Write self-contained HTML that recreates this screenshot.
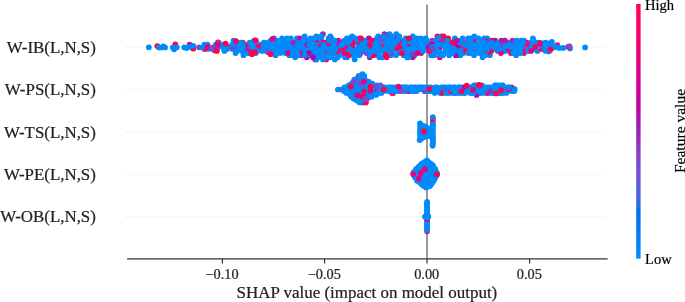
<!DOCTYPE html>
<html><head><meta charset="utf-8"><title>SHAP summary</title>
<style>html,body{margin:0;padding:0;background:#fff}body{width:685px;height:302px;overflow:hidden;font-family:"Liberation Serif",serif}</style></head>
<body>
<svg width="685" height="302" viewBox="0 0 685 302" style="display:block;will-change:transform;font-family:'Liberation Serif',serif">
<defs><linearGradient id="cb" x1="0" y1="1" x2="0" y2="0">
<stop offset="0.000" stop-color="#008bfb"/>
<stop offset="0.030" stop-color="#0086fa"/>
<stop offset="0.061" stop-color="#0082f8"/>
<stop offset="0.091" stop-color="#007ef6"/>
<stop offset="0.121" stop-color="#0079f3"/>
<stop offset="0.152" stop-color="#0074f0"/>
<stop offset="0.182" stop-color="#006fed"/>
<stop offset="0.212" stop-color="#306ae9"/>
<stop offset="0.242" stop-color="#4664e4"/>
<stop offset="0.273" stop-color="#575fdf"/>
<stop offset="0.303" stop-color="#6459da"/>
<stop offset="0.333" stop-color="#6f52d4"/>
<stop offset="0.364" stop-color="#794cce"/>
<stop offset="0.394" stop-color="#8244c7"/>
<stop offset="0.424" stop-color="#8a3cc0"/>
<stop offset="0.455" stop-color="#9233b9"/>
<stop offset="0.485" stop-color="#9829b1"/>
<stop offset="0.515" stop-color="#a01fab"/>
<stop offset="0.545" stop-color="#aa17a7"/>
<stop offset="0.576" stop-color="#b30aa3"/>
<stop offset="0.606" stop-color="#bc009f"/>
<stop offset="0.636" stop-color="#c5009a"/>
<stop offset="0.667" stop-color="#cd0095"/>
<stop offset="0.697" stop-color="#d40090"/>
<stop offset="0.727" stop-color="#db008a"/>
<stop offset="0.758" stop-color="#e10084"/>
<stop offset="0.788" stop-color="#e7007e"/>
<stop offset="0.818" stop-color="#ec0078"/>
<stop offset="0.848" stop-color="#f10072"/>
<stop offset="0.879" stop-color="#f6006c"/>
<stop offset="0.909" stop-color="#fa0065"/>
<stop offset="0.939" stop-color="#fd005f"/>
<stop offset="0.970" stop-color="#ff0058"/>
<stop offset="1.000" stop-color="#ff0051"/>
<stop offset="1" stop-color="#ff0051"/></linearGradient></defs>
<rect width="685" height="302" fill="#fff"/>
<line x1="127.1" x2="604.7" y1="47.2" y2="47.2" stroke="#ccc" stroke-width="0.7" stroke-dasharray="0.9 3.07"/>
<line x1="127.1" x2="604.7" y1="89.6" y2="89.6" stroke="#ccc" stroke-width="0.7" stroke-dasharray="0.9 3.07"/>
<line x1="127.1" x2="604.7" y1="132.0" y2="132.0" stroke="#ccc" stroke-width="0.7" stroke-dasharray="0.9 3.07"/>
<line x1="127.1" x2="604.7" y1="174.4" y2="174.4" stroke="#ccc" stroke-width="0.7" stroke-dasharray="0.9 3.07"/>
<line x1="127.1" x2="604.7" y1="216.8" y2="216.8" stroke="#ccc" stroke-width="0.7" stroke-dasharray="0.9 3.07"/>
<line x1="427.0" x2="427.0" y1="4.6" y2="258.8" stroke="#999" stroke-width="2"/>
<g>
<circle cx="157.3" cy="46.0" r="2.85" fill="#ff0051"/>
<circle cx="175.3" cy="44.3" r="2.85" fill="#ff0051"/>
<circle cx="189.6" cy="44.6" r="2.85" fill="#e9007c"/>
<circle cx="193.2" cy="48.7" r="2.85" fill="#ff0051"/>
<circle cx="214.8" cy="50.4" r="2.85" fill="#ff0051"/>
<circle cx="218.0" cy="42.3" r="2.85" fill="#ff0051"/>
<circle cx="421.2" cy="53.1" r="2.85" fill="#f30070"/>
<circle cx="371.8" cy="46.8" r="2.85" fill="#008bfb"/>
<circle cx="484.2" cy="38.4" r="2.85" fill="#008bfb"/>
<circle cx="378.7" cy="51.0" r="2.85" fill="#008bfb"/>
<circle cx="345.9" cy="51.0" r="2.85" fill="#008bfb"/>
<circle cx="444.6" cy="42.6" r="2.85" fill="#008bfb"/>
<circle cx="292.6" cy="48.9" r="2.85" fill="#008bfb"/>
<circle cx="484.9" cy="51.0" r="2.85" fill="#008bfb"/>
<circle cx="338.1" cy="46.8" r="2.85" fill="#008bfb"/>
<circle cx="454.6" cy="46.8" r="2.85" fill="#008bfb"/>
<circle cx="398.9" cy="51.0" r="2.85" fill="#008bfb"/>
<circle cx="487.1" cy="42.6" r="2.85" fill="#ff0058"/>
<circle cx="546.6" cy="48.9" r="2.85" fill="#e9007c"/>
<circle cx="338.0" cy="55.2" r="2.85" fill="#fb0063"/>
<circle cx="395.9" cy="48.9" r="2.85" fill="#ff0058"/>
<circle cx="299.6" cy="46.8" r="2.85" fill="#008bfb"/>
<circle cx="347.2" cy="57.3" r="2.85" fill="#008bfb"/>
<circle cx="435.7" cy="48.9" r="2.85" fill="#f30070"/>
<circle cx="463.0" cy="46.8" r="2.85" fill="#ff0051"/>
<circle cx="362.8" cy="51.0" r="2.85" fill="#008bfb"/>
<circle cx="505.5" cy="51.0" r="2.85" fill="#008bfb"/>
<circle cx="378.2" cy="36.3" r="2.85" fill="#008bfb"/>
<circle cx="266.8" cy="48.9" r="2.85" fill="#fb0063"/>
<circle cx="369.7" cy="57.3" r="2.85" fill="#aa17a7"/>
<circle cx="308.0" cy="40.5" r="2.85" fill="#008bfb"/>
<circle cx="341.1" cy="42.6" r="2.85" fill="#008bfb"/>
<circle cx="282.1" cy="46.8" r="2.85" fill="#ff0051"/>
<circle cx="502.6" cy="44.7" r="2.85" fill="#e9007c"/>
<circle cx="339.4" cy="55.2" r="2.85" fill="#008bfb"/>
<circle cx="460.9" cy="44.7" r="2.85" fill="#ff0051"/>
<circle cx="316.1" cy="48.9" r="2.85" fill="#e9007c"/>
<circle cx="303.6" cy="42.6" r="2.85" fill="#008bfb"/>
<circle cx="482.0" cy="42.6" r="2.85" fill="#008bfb"/>
<circle cx="437.4" cy="36.3" r="2.85" fill="#f30070"/>
<circle cx="501.7" cy="48.9" r="2.85" fill="#008bfb"/>
<circle cx="331.9" cy="48.9" r="2.85" fill="#ff0051"/>
<circle cx="211.9" cy="48.9" r="2.85" fill="#008bfb"/>
<circle cx="236.9" cy="42.6" r="2.85" fill="#008bfb"/>
<circle cx="489.5" cy="40.5" r="2.85" fill="#008bfb"/>
<circle cx="503.9" cy="48.9" r="2.85" fill="#008bfb"/>
<circle cx="431.1" cy="55.2" r="2.85" fill="#008bfb"/>
<circle cx="493.5" cy="48.9" r="2.85" fill="#008bfb"/>
<circle cx="395.3" cy="42.6" r="2.85" fill="#008bfb"/>
<circle cx="339.8" cy="46.8" r="2.85" fill="#f30070"/>
<circle cx="409.9" cy="44.7" r="2.85" fill="#ff0051"/>
<circle cx="306.8" cy="57.3" r="2.85" fill="#b604a2"/>
<circle cx="357.0" cy="42.6" r="2.85" fill="#008bfb"/>
<circle cx="303.2" cy="44.7" r="2.85" fill="#008bfb"/>
<circle cx="479.3" cy="53.1" r="2.85" fill="#008bfb"/>
<circle cx="358.4" cy="40.5" r="2.85" fill="#008bfb"/>
<circle cx="457.3" cy="44.7" r="2.85" fill="#008bfb"/>
<circle cx="533.4" cy="40.5" r="2.85" fill="#008bfb"/>
<circle cx="501.6" cy="46.8" r="2.85" fill="#e9007c"/>
<circle cx="326.2" cy="59.4" r="2.85" fill="#fb0063"/>
<circle cx="318.0" cy="42.6" r="2.85" fill="#008bfb"/>
<circle cx="454.8" cy="40.5" r="2.85" fill="#008bfb"/>
<circle cx="278.9" cy="51.0" r="2.85" fill="#008bfb"/>
<circle cx="261.8" cy="44.7" r="2.85" fill="#ff0051"/>
<circle cx="418.6" cy="44.7" r="2.85" fill="#008bfb"/>
<circle cx="445.6" cy="48.9" r="2.85" fill="#008bfb"/>
<circle cx="492.8" cy="44.7" r="2.85" fill="#e9007c"/>
<circle cx="348.0" cy="51.0" r="2.85" fill="#008bfb"/>
<circle cx="489.9" cy="55.2" r="2.85" fill="#008bfb"/>
<circle cx="424.5" cy="44.7" r="2.85" fill="#008bfb"/>
<circle cx="239.8" cy="46.8" r="2.85" fill="#008bfb"/>
<circle cx="445.9" cy="38.4" r="2.85" fill="#008bfb"/>
<circle cx="216.5" cy="48.9" r="2.85" fill="#008bfb"/>
<circle cx="487.3" cy="53.1" r="2.85" fill="#ff0051"/>
<circle cx="329.3" cy="44.7" r="2.85" fill="#008bfb"/>
<circle cx="386.5" cy="48.9" r="2.85" fill="#aa17a7"/>
<circle cx="448.2" cy="38.4" r="2.85" fill="#ff0051"/>
<circle cx="532.9" cy="38.4" r="2.85" fill="#008bfb"/>
<circle cx="432.4" cy="42.6" r="2.85" fill="#008bfb"/>
<circle cx="519.0" cy="44.7" r="2.85" fill="#008bfb"/>
<circle cx="362.0" cy="44.7" r="2.85" fill="#008bfb"/>
<circle cx="524.7" cy="51.0" r="2.85" fill="#f30070"/>
<circle cx="308.8" cy="48.9" r="2.85" fill="#ff0058"/>
<circle cx="432.4" cy="40.5" r="2.85" fill="#8542c5"/>
<circle cx="482.8" cy="53.1" r="2.85" fill="#008bfb"/>
<circle cx="329.8" cy="44.7" r="2.85" fill="#8047c9"/>
<circle cx="383.8" cy="38.4" r="2.85" fill="#008bfb"/>
<circle cx="207.5" cy="44.7" r="2.85" fill="#008bfb"/>
<circle cx="322.9" cy="34.2" r="2.85" fill="#9430b6"/>
<circle cx="293.6" cy="46.8" r="2.85" fill="#008bfb"/>
<circle cx="320.9" cy="40.5" r="2.85" fill="#fb0063"/>
<circle cx="503.3" cy="51.0" r="2.85" fill="#008bfb"/>
<circle cx="347.4" cy="44.7" r="2.85" fill="#008bfb"/>
<circle cx="443.1" cy="40.5" r="2.85" fill="#fb0063"/>
<circle cx="378.3" cy="55.2" r="2.85" fill="#008bfb"/>
<circle cx="387.5" cy="44.7" r="2.85" fill="#008bfb"/>
<circle cx="463.3" cy="48.9" r="2.85" fill="#ff0051"/>
<circle cx="344.4" cy="48.9" r="2.85" fill="#008bfb"/>
<circle cx="277.9" cy="44.7" r="2.85" fill="#008bfb"/>
<circle cx="386.8" cy="55.2" r="2.85" fill="#008bfb"/>
<circle cx="415.0" cy="44.7" r="2.85" fill="#008bfb"/>
<circle cx="544.4" cy="44.7" r="2.85" fill="#008bfb"/>
<circle cx="537.4" cy="51.0" r="2.85" fill="#008bfb"/>
<circle cx="255.8" cy="42.6" r="2.85" fill="#008bfb"/>
<circle cx="384.4" cy="42.6" r="2.85" fill="#008bfb"/>
<circle cx="475.9" cy="51.0" r="2.85" fill="#008bfb"/>
<circle cx="346.5" cy="55.2" r="2.85" fill="#008bfb"/>
<circle cx="395.8" cy="38.4" r="2.85" fill="#008bfb"/>
<circle cx="474.6" cy="42.6" r="2.85" fill="#008bfb"/>
<circle cx="497.9" cy="44.7" r="2.85" fill="#008bfb"/>
<circle cx="524.1" cy="40.5" r="2.85" fill="#008bfb"/>
<circle cx="389.7" cy="36.3" r="2.85" fill="#dd0088"/>
<circle cx="315.9" cy="53.1" r="2.85" fill="#008bfb"/>
<circle cx="398.6" cy="53.1" r="2.85" fill="#008bfb"/>
<circle cx="316.6" cy="40.5" r="2.85" fill="#008bfb"/>
<circle cx="295.2" cy="48.9" r="2.85" fill="#8f36bb"/>
<circle cx="232.5" cy="48.9" r="2.85" fill="#008bfb"/>
<circle cx="449.4" cy="44.7" r="2.85" fill="#008bfb"/>
<circle cx="241.7" cy="48.9" r="2.85" fill="#008bfb"/>
<circle cx="294.9" cy="51.0" r="2.85" fill="#008bfb"/>
<circle cx="310.1" cy="46.8" r="2.85" fill="#008bfb"/>
<circle cx="379.3" cy="42.6" r="2.85" fill="#ff0051"/>
<circle cx="317.5" cy="51.0" r="2.85" fill="#008bfb"/>
<circle cx="285.0" cy="40.5" r="2.85" fill="#b00fa5"/>
<circle cx="492.0" cy="40.5" r="2.85" fill="#ff0051"/>
<circle cx="299.8" cy="51.0" r="2.85" fill="#008bfb"/>
<circle cx="205.8" cy="46.8" r="2.85" fill="#ff0051"/>
<circle cx="472.4" cy="51.0" r="2.85" fill="#ff0051"/>
<circle cx="331.4" cy="38.4" r="2.85" fill="#008bfb"/>
<circle cx="510.9" cy="51.0" r="2.85" fill="#008bfb"/>
<circle cx="508.5" cy="48.9" r="2.85" fill="#e9007c"/>
<circle cx="439.4" cy="42.6" r="2.85" fill="#008bfb"/>
<circle cx="330.7" cy="42.6" r="2.85" fill="#ff0058"/>
<circle cx="526.7" cy="44.7" r="2.85" fill="#ff0051"/>
<circle cx="441.2" cy="36.3" r="2.85" fill="#008bfb"/>
<circle cx="429.7" cy="44.7" r="2.85" fill="#008bfb"/>
<circle cx="316.4" cy="36.3" r="2.85" fill="#008bfb"/>
<circle cx="307.9" cy="42.6" r="2.85" fill="#008bfb"/>
<circle cx="223.8" cy="48.9" r="2.85" fill="#008bfb"/>
<circle cx="359.3" cy="55.2" r="2.85" fill="#008bfb"/>
<circle cx="487.9" cy="46.8" r="2.85" fill="#bc009f"/>
<circle cx="269.4" cy="51.0" r="2.85" fill="#008bfb"/>
<circle cx="382.0" cy="46.8" r="2.85" fill="#008bfb"/>
<circle cx="449.8" cy="48.9" r="2.85" fill="#008bfb"/>
<circle cx="254.4" cy="46.8" r="2.85" fill="#008bfb"/>
<circle cx="495.1" cy="40.5" r="2.85" fill="#b30aa3"/>
<circle cx="355.6" cy="51.0" r="2.85" fill="#008bfb"/>
<circle cx="396.0" cy="55.2" r="2.85" fill="#008bfb"/>
<circle cx="396.3" cy="34.2" r="2.85" fill="#008bfb"/>
<circle cx="498.2" cy="42.6" r="2.85" fill="#008bfb"/>
<circle cx="521.3" cy="40.5" r="2.85" fill="#008bfb"/>
<circle cx="409.7" cy="42.6" r="2.85" fill="#008bfb"/>
<circle cx="257.7" cy="44.7" r="2.85" fill="#008bfb"/>
<circle cx="384.4" cy="53.1" r="2.85" fill="#008bfb"/>
<circle cx="509.3" cy="46.8" r="2.85" fill="#008bfb"/>
<circle cx="313.3" cy="55.2" r="2.85" fill="#008bfb"/>
<circle cx="439.4" cy="48.9" r="2.85" fill="#008bfb"/>
<circle cx="327.4" cy="55.2" r="2.85" fill="#008bfb"/>
<circle cx="267.3" cy="46.8" r="2.85" fill="#008bfb"/>
<circle cx="491.4" cy="51.0" r="2.85" fill="#008bfb"/>
<circle cx="524.0" cy="53.1" r="2.85" fill="#ff0051"/>
<circle cx="530.9" cy="42.6" r="2.85" fill="#008bfb"/>
<circle cx="515.7" cy="51.0" r="2.85" fill="#008bfb"/>
<circle cx="377.8" cy="53.1" r="2.85" fill="#008bfb"/>
<circle cx="414.5" cy="55.2" r="2.85" fill="#008bfb"/>
<circle cx="321.1" cy="38.4" r="2.85" fill="#008bfb"/>
<circle cx="483.6" cy="46.8" r="2.85" fill="#008bfb"/>
<circle cx="438.0" cy="42.6" r="2.85" fill="#962db3"/>
<circle cx="314.9" cy="51.0" r="2.85" fill="#008bfb"/>
<circle cx="407.0" cy="40.5" r="2.85" fill="#008bfb"/>
<circle cx="523.0" cy="48.9" r="2.85" fill="#f30070"/>
<circle cx="276.4" cy="53.1" r="2.85" fill="#008bfb"/>
<circle cx="294.9" cy="53.1" r="2.85" fill="#008bfb"/>
<circle cx="368.9" cy="38.4" r="2.85" fill="#b604a2"/>
<circle cx="409.5" cy="51.0" r="2.85" fill="#008bfb"/>
<circle cx="373.9" cy="40.5" r="2.85" fill="#8d39be"/>
<circle cx="460.6" cy="42.6" r="2.85" fill="#008bfb"/>
<circle cx="328.3" cy="53.1" r="2.85" fill="#008bfb"/>
<circle cx="441.0" cy="38.4" r="2.85" fill="#008bfb"/>
<circle cx="422.6" cy="48.9" r="2.85" fill="#008bfb"/>
<circle cx="287.7" cy="42.6" r="2.85" fill="#b900a0"/>
<circle cx="364.1" cy="40.5" r="2.85" fill="#008bfb"/>
<circle cx="535.1" cy="48.9" r="2.85" fill="#008bfb"/>
<circle cx="359.8" cy="44.7" r="2.85" fill="#e9007c"/>
<circle cx="258.0" cy="48.9" r="2.85" fill="#8047c9"/>
<circle cx="439.8" cy="57.3" r="2.85" fill="#f30070"/>
<circle cx="438.5" cy="51.0" r="2.85" fill="#f30070"/>
<circle cx="288.0" cy="51.0" r="2.85" fill="#008bfb"/>
<circle cx="366.9" cy="42.6" r="2.85" fill="#008bfb"/>
<circle cx="423.2" cy="51.0" r="2.85" fill="#008bfb"/>
<circle cx="262.9" cy="46.8" r="2.85" fill="#008bfb"/>
<circle cx="532.4" cy="48.9" r="2.85" fill="#008bfb"/>
<circle cx="473.7" cy="38.4" r="2.85" fill="#008bfb"/>
<circle cx="383.2" cy="44.7" r="2.85" fill="#008bfb"/>
<circle cx="383.1" cy="51.0" r="2.85" fill="#008bfb"/>
<circle cx="392.1" cy="51.0" r="2.85" fill="#008bfb"/>
<circle cx="315.2" cy="59.4" r="2.85" fill="#f30070"/>
<circle cx="394.7" cy="38.4" r="2.85" fill="#ff0051"/>
<circle cx="337.9" cy="42.6" r="2.85" fill="#dd0088"/>
<circle cx="359.5" cy="38.4" r="2.85" fill="#008bfb"/>
<circle cx="529.4" cy="46.8" r="2.85" fill="#8f36bb"/>
<circle cx="387.2" cy="51.0" r="2.85" fill="#ff0051"/>
<circle cx="298.7" cy="40.5" r="2.85" fill="#008bfb"/>
<circle cx="291.3" cy="44.7" r="2.85" fill="#008bfb"/>
<circle cx="403.8" cy="51.0" r="2.85" fill="#008bfb"/>
<circle cx="236.6" cy="46.8" r="2.85" fill="#008bfb"/>
<circle cx="295.7" cy="44.7" r="2.85" fill="#008bfb"/>
<circle cx="261.8" cy="48.9" r="2.85" fill="#008bfb"/>
<circle cx="451.3" cy="42.6" r="2.85" fill="#ff0058"/>
<circle cx="458.9" cy="55.2" r="2.85" fill="#008bfb"/>
<circle cx="443.9" cy="53.1" r="2.85" fill="#008bfb"/>
<circle cx="306.9" cy="46.8" r="2.85" fill="#008bfb"/>
<circle cx="267.0" cy="44.7" r="2.85" fill="#008bfb"/>
<circle cx="389.6" cy="34.2" r="2.85" fill="#008bfb"/>
<circle cx="242.6" cy="48.9" r="2.85" fill="#008bfb"/>
<circle cx="406.4" cy="44.7" r="2.85" fill="#008bfb"/>
<circle cx="412.8" cy="36.3" r="2.85" fill="#008bfb"/>
<circle cx="287.4" cy="44.7" r="2.85" fill="#008bfb"/>
<circle cx="490.7" cy="51.0" r="2.85" fill="#ff0051"/>
<circle cx="243.9" cy="46.8" r="2.85" fill="#008bfb"/>
<circle cx="289.2" cy="55.2" r="2.85" fill="#008bfb"/>
<circle cx="508.0" cy="42.6" r="2.85" fill="#883fc2"/>
<circle cx="304.6" cy="36.3" r="2.85" fill="#008bfb"/>
<circle cx="338.2" cy="48.9" r="2.85" fill="#008bfb"/>
<circle cx="317.7" cy="57.3" r="2.85" fill="#008bfb"/>
<circle cx="519.9" cy="48.9" r="2.85" fill="#008bfb"/>
<circle cx="364.6" cy="40.5" r="2.85" fill="#008bfb"/>
<circle cx="463.3" cy="51.0" r="2.85" fill="#008bfb"/>
<circle cx="391.1" cy="55.2" r="2.85" fill="#008bfb"/>
<circle cx="468.2" cy="48.9" r="2.85" fill="#008bfb"/>
<circle cx="242.8" cy="42.6" r="2.85" fill="#fb0063"/>
<circle cx="370.4" cy="48.9" r="2.85" fill="#fb0063"/>
<circle cx="408.1" cy="46.8" r="2.85" fill="#e9007c"/>
<circle cx="431.7" cy="44.7" r="2.85" fill="#bc009f"/>
<circle cx="352.8" cy="44.7" r="2.85" fill="#008bfb"/>
<circle cx="458.6" cy="48.9" r="2.85" fill="#008bfb"/>
<circle cx="329.8" cy="40.5" r="2.85" fill="#008bfb"/>
<circle cx="276.8" cy="42.6" r="2.85" fill="#008bfb"/>
<circle cx="352.9" cy="48.9" r="2.85" fill="#008bfb"/>
<circle cx="293.6" cy="42.6" r="2.85" fill="#962db3"/>
<circle cx="348.4" cy="46.8" r="2.85" fill="#008bfb"/>
<circle cx="310.4" cy="55.2" r="2.85" fill="#008bfb"/>
<circle cx="207.6" cy="48.9" r="2.85" fill="#008bfb"/>
<circle cx="541.5" cy="48.9" r="2.85" fill="#ff0051"/>
<circle cx="399.8" cy="44.7" r="2.85" fill="#8047c9"/>
<circle cx="461.2" cy="40.5" r="2.85" fill="#008bfb"/>
<circle cx="348.2" cy="53.1" r="2.85" fill="#008bfb"/>
<circle cx="381.1" cy="40.5" r="2.85" fill="#008bfb"/>
<circle cx="290.7" cy="40.5" r="2.85" fill="#dd0088"/>
<circle cx="354.7" cy="59.4" r="2.85" fill="#008bfb"/>
<circle cx="498.0" cy="46.8" r="2.85" fill="#008bfb"/>
<circle cx="406.5" cy="48.9" r="2.85" fill="#008bfb"/>
<circle cx="337.7" cy="57.3" r="2.85" fill="#008bfb"/>
<circle cx="280.3" cy="53.1" r="2.85" fill="#008bfb"/>
<circle cx="334.1" cy="44.7" r="2.85" fill="#008bfb"/>
<circle cx="454.3" cy="44.7" r="2.85" fill="#fb0063"/>
<circle cx="355.6" cy="38.4" r="2.85" fill="#008bfb"/>
<circle cx="367.1" cy="51.0" r="2.85" fill="#008bfb"/>
<circle cx="255.8" cy="40.5" r="2.85" fill="#008bfb"/>
<circle cx="478.1" cy="46.8" r="2.85" fill="#008bfb"/>
<circle cx="394.2" cy="44.7" r="2.85" fill="#008bfb"/>
<circle cx="432.5" cy="53.1" r="2.85" fill="#008bfb"/>
<circle cx="478.1" cy="44.7" r="2.85" fill="#008bfb"/>
<circle cx="283.0" cy="44.7" r="2.85" fill="#008bfb"/>
<circle cx="343.7" cy="42.6" r="2.85" fill="#ff0051"/>
<circle cx="513.4" cy="48.9" r="2.85" fill="#008bfb"/>
<circle cx="270.7" cy="40.5" r="2.85" fill="#008bfb"/>
<circle cx="296.9" cy="38.4" r="2.85" fill="#008bfb"/>
<circle cx="449.2" cy="55.2" r="2.85" fill="#008bfb"/>
<circle cx="473.7" cy="46.8" r="2.85" fill="#008bfb"/>
<circle cx="513.3" cy="44.7" r="2.85" fill="#008bfb"/>
<circle cx="344.9" cy="57.3" r="2.85" fill="#008bfb"/>
<circle cx="391.3" cy="53.1" r="2.85" fill="#7d49cc"/>
<circle cx="264.0" cy="42.6" r="2.85" fill="#008bfb"/>
<circle cx="325.5" cy="42.6" r="2.85" fill="#f30070"/>
<circle cx="382.2" cy="57.3" r="2.85" fill="#008bfb"/>
<circle cx="529.1" cy="48.9" r="2.85" fill="#8a3cc0"/>
<circle cx="312.8" cy="46.8" r="2.85" fill="#008bfb"/>
<circle cx="345.3" cy="46.8" r="2.85" fill="#fb0063"/>
<circle cx="528.0" cy="51.0" r="2.85" fill="#008bfb"/>
<circle cx="334.4" cy="53.1" r="2.85" fill="#008bfb"/>
<circle cx="310.4" cy="38.4" r="2.85" fill="#008bfb"/>
<circle cx="283.8" cy="48.9" r="2.85" fill="#008bfb"/>
<circle cx="204.6" cy="48.9" r="2.85" fill="#ff0058"/>
<circle cx="313.2" cy="40.5" r="2.85" fill="#008bfb"/>
<circle cx="457.9" cy="53.1" r="2.85" fill="#008bfb"/>
<circle cx="475.6" cy="53.1" r="2.85" fill="#008bfb"/>
<circle cx="236.0" cy="48.9" r="2.85" fill="#008bfb"/>
<circle cx="348.8" cy="38.4" r="2.85" fill="#008bfb"/>
<circle cx="352.1" cy="46.8" r="2.85" fill="#e9007c"/>
<circle cx="404.7" cy="46.8" r="2.85" fill="#008bfb"/>
<circle cx="233.7" cy="40.5" r="2.85" fill="#008bfb"/>
<circle cx="381.6" cy="46.8" r="2.85" fill="#ff0058"/>
<circle cx="418.0" cy="48.9" r="2.85" fill="#8a3cc0"/>
<circle cx="460.5" cy="55.2" r="2.85" fill="#008bfb"/>
<circle cx="320.6" cy="53.1" r="2.85" fill="#008bfb"/>
<circle cx="392.3" cy="36.3" r="2.85" fill="#008bfb"/>
<circle cx="531.9" cy="46.8" r="2.85" fill="#008bfb"/>
<circle cx="275.6" cy="55.2" r="2.85" fill="#008bfb"/>
<circle cx="290.8" cy="38.4" r="2.85" fill="#008bfb"/>
<circle cx="526.6" cy="42.6" r="2.85" fill="#fb0063"/>
<circle cx="380.7" cy="38.4" r="2.85" fill="#e9007c"/>
<circle cx="472.9" cy="44.7" r="2.85" fill="#008bfb"/>
<circle cx="338.3" cy="40.5" r="2.85" fill="#dd0088"/>
<circle cx="281.4" cy="48.9" r="2.85" fill="#008bfb"/>
<circle cx="327.0" cy="46.8" r="2.85" fill="#ff0051"/>
<circle cx="405.7" cy="38.4" r="2.85" fill="#008bfb"/>
<circle cx="247.6" cy="46.8" r="2.85" fill="#008bfb"/>
<circle cx="403.6" cy="55.2" r="2.85" fill="#008bfb"/>
<circle cx="386.9" cy="38.4" r="2.85" fill="#008bfb"/>
<circle cx="316.3" cy="42.6" r="2.85" fill="#ff0051"/>
<circle cx="295.2" cy="57.3" r="2.85" fill="#008bfb"/>
<circle cx="248.7" cy="48.9" r="2.85" fill="#008bfb"/>
<circle cx="519.8" cy="42.6" r="2.85" fill="#008bfb"/>
<circle cx="407.4" cy="53.1" r="2.85" fill="#008bfb"/>
<circle cx="521.9" cy="46.8" r="2.85" fill="#008bfb"/>
<circle cx="408.6" cy="53.1" r="2.85" fill="#008bfb"/>
<circle cx="468.5" cy="40.5" r="2.85" fill="#e9007c"/>
<circle cx="341.8" cy="51.0" r="2.85" fill="#ff0058"/>
<circle cx="497.7" cy="51.0" r="2.85" fill="#764ed0"/>
<circle cx="360.5" cy="53.1" r="2.85" fill="#9d22ac"/>
<circle cx="389.5" cy="42.6" r="2.85" fill="#008bfb"/>
<circle cx="237.3" cy="44.7" r="2.85" fill="#008bfb"/>
<circle cx="487.5" cy="48.9" r="2.85" fill="#008bfb"/>
<circle cx="243.5" cy="55.2" r="2.85" fill="#008bfb"/>
<circle cx="323.5" cy="53.1" r="2.85" fill="#e9007c"/>
<circle cx="402.0" cy="40.5" r="2.85" fill="#008bfb"/>
<circle cx="419.6" cy="40.5" r="2.85" fill="#008bfb"/>
<circle cx="320.2" cy="38.4" r="2.85" fill="#008bfb"/>
<circle cx="228.2" cy="46.8" r="2.85" fill="#fb0063"/>
<circle cx="445.3" cy="46.8" r="2.85" fill="#008bfb"/>
<circle cx="261.9" cy="51.0" r="2.85" fill="#008bfb"/>
<circle cx="468.2" cy="38.4" r="2.85" fill="#008bfb"/>
<circle cx="377.2" cy="38.4" r="2.85" fill="#008bfb"/>
<circle cx="334.8" cy="59.4" r="2.85" fill="#008bfb"/>
<circle cx="254.0" cy="40.5" r="2.85" fill="#008bfb"/>
<circle cx="330.7" cy="57.3" r="2.85" fill="#008bfb"/>
<circle cx="388.2" cy="53.1" r="2.85" fill="#008bfb"/>
<circle cx="299.9" cy="40.5" r="2.85" fill="#008bfb"/>
<circle cx="287.7" cy="48.9" r="2.85" fill="#008bfb"/>
<circle cx="451.5" cy="53.1" r="2.85" fill="#008bfb"/>
<circle cx="410.2" cy="55.2" r="2.85" fill="#008bfb"/>
<circle cx="443.0" cy="55.2" r="2.85" fill="#008bfb"/>
<circle cx="364.4" cy="46.8" r="2.85" fill="#008bfb"/>
<circle cx="487.2" cy="38.4" r="2.85" fill="#008bfb"/>
<circle cx="224.5" cy="51.0" r="2.85" fill="#008bfb"/>
<circle cx="248.9" cy="53.1" r="2.85" fill="#008bfb"/>
<circle cx="218.4" cy="44.7" r="2.85" fill="#008bfb"/>
<circle cx="454.8" cy="38.4" r="2.85" fill="#008bfb"/>
<circle cx="354.5" cy="53.1" r="2.85" fill="#008bfb"/>
<circle cx="474.1" cy="40.5" r="2.85" fill="#ff0058"/>
<circle cx="320.6" cy="44.7" r="2.85" fill="#008bfb"/>
<circle cx="471.6" cy="46.8" r="2.85" fill="#008bfb"/>
<circle cx="375.9" cy="42.6" r="2.85" fill="#008bfb"/>
<circle cx="463.3" cy="53.1" r="2.85" fill="#008bfb"/>
<circle cx="270.0" cy="53.1" r="2.85" fill="#ff0051"/>
<circle cx="520.4" cy="53.1" r="2.85" fill="#008bfb"/>
<circle cx="346.9" cy="38.4" r="2.85" fill="#008bfb"/>
<circle cx="384.5" cy="34.2" r="2.85" fill="#9d22ac"/>
<circle cx="324.6" cy="46.8" r="2.85" fill="#008bfb"/>
<circle cx="252.7" cy="51.0" r="2.85" fill="#9d22ac"/>
<circle cx="474.0" cy="55.2" r="2.85" fill="#008bfb"/>
<circle cx="350.1" cy="48.9" r="2.85" fill="#008bfb"/>
<circle cx="233.4" cy="46.8" r="2.85" fill="#8d39be"/>
<circle cx="440.0" cy="46.8" r="2.85" fill="#dd0088"/>
<circle cx="272.1" cy="46.8" r="2.85" fill="#008bfb"/>
<circle cx="503.4" cy="42.6" r="2.85" fill="#8a3cc0"/>
<circle cx="325.4" cy="57.3" r="2.85" fill="#008bfb"/>
<circle cx="316.4" cy="59.4" r="2.85" fill="#008bfb"/>
<circle cx="365.3" cy="44.7" r="2.85" fill="#008bfb"/>
<circle cx="371.6" cy="42.6" r="2.85" fill="#008bfb"/>
<circle cx="457.3" cy="46.8" r="2.85" fill="#b604a2"/>
<circle cx="476.9" cy="48.9" r="2.85" fill="#008bfb"/>
<circle cx="399.2" cy="36.3" r="2.85" fill="#008bfb"/>
<circle cx="278.6" cy="46.8" r="2.85" fill="#008bfb"/>
<circle cx="512.9" cy="46.8" r="2.85" fill="#008bfb"/>
<circle cx="285.8" cy="42.6" r="2.85" fill="#008bfb"/>
<circle cx="288.4" cy="46.8" r="2.85" fill="#008bfb"/>
<circle cx="282.1" cy="38.4" r="2.85" fill="#008bfb"/>
<circle cx="500.9" cy="53.1" r="2.85" fill="#dd0088"/>
<circle cx="370.0" cy="55.2" r="2.85" fill="#008bfb"/>
<circle cx="351.8" cy="40.5" r="2.85" fill="#6f52d4"/>
<circle cx="455.0" cy="51.0" r="2.85" fill="#008bfb"/>
<circle cx="436.4" cy="40.5" r="2.85" fill="#008bfb"/>
<circle cx="354.2" cy="57.3" r="2.85" fill="#008bfb"/>
<circle cx="481.6" cy="48.9" r="2.85" fill="#008bfb"/>
<circle cx="353.7" cy="55.2" r="2.85" fill="#008bfb"/>
<circle cx="536.8" cy="42.6" r="2.85" fill="#008bfb"/>
<circle cx="327.2" cy="51.0" r="2.85" fill="#ff0051"/>
<circle cx="420.5" cy="38.4" r="2.85" fill="#008bfb"/>
<circle cx="470.5" cy="53.1" r="2.85" fill="#008bfb"/>
<circle cx="317.4" cy="55.2" r="2.85" fill="#008bfb"/>
<circle cx="357.7" cy="48.9" r="2.85" fill="#008bfb"/>
<circle cx="247.6" cy="44.7" r="2.85" fill="#ff0051"/>
<circle cx="418.2" cy="51.0" r="2.85" fill="#008bfb"/>
<circle cx="341.3" cy="53.1" r="2.85" fill="#008bfb"/>
<circle cx="453.9" cy="48.9" r="2.85" fill="#008bfb"/>
<circle cx="485.3" cy="44.7" r="2.85" fill="#008bfb"/>
<circle cx="412.8" cy="57.3" r="2.85" fill="#a71aa9"/>
<circle cx="430.6" cy="51.0" r="2.85" fill="#008bfb"/>
<circle cx="521.7" cy="44.7" r="2.85" fill="#008bfb"/>
<circle cx="288.4" cy="40.5" r="2.85" fill="#008bfb"/>
<circle cx="398.4" cy="44.7" r="2.85" fill="#008bfb"/>
<circle cx="344.1" cy="40.5" r="2.85" fill="#008bfb"/>
<circle cx="327.8" cy="48.9" r="2.85" fill="#008bfb"/>
<circle cx="462.7" cy="38.4" r="2.85" fill="#008bfb"/>
<circle cx="237.2" cy="51.0" r="2.85" fill="#008bfb"/>
<circle cx="478.4" cy="38.4" r="2.85" fill="#008bfb"/>
<circle cx="439.8" cy="53.1" r="2.85" fill="#008bfb"/>
<circle cx="434.9" cy="53.1" r="2.85" fill="#008bfb"/>
<circle cx="400.7" cy="42.6" r="2.85" fill="#f30070"/>
<circle cx="407.1" cy="57.3" r="2.85" fill="#008bfb"/>
<circle cx="413.1" cy="53.1" r="2.85" fill="#8a3cc0"/>
<circle cx="283.4" cy="51.0" r="2.85" fill="#008bfb"/>
<circle cx="321.3" cy="57.3" r="2.85" fill="#008bfb"/>
<circle cx="425.6" cy="38.4" r="2.85" fill="#008bfb"/>
<circle cx="481.0" cy="40.5" r="2.85" fill="#008bfb"/>
<circle cx="361.0" cy="48.9" r="2.85" fill="#008bfb"/>
<circle cx="359.6" cy="53.1" r="2.85" fill="#008bfb"/>
<circle cx="249.6" cy="42.6" r="2.85" fill="#008bfb"/>
<circle cx="358.7" cy="46.8" r="2.85" fill="#008bfb"/>
<circle cx="319.4" cy="46.8" r="2.85" fill="#ff0051"/>
<circle cx="348.6" cy="55.2" r="2.85" fill="#ff0051"/>
<circle cx="412.5" cy="40.5" r="2.85" fill="#008bfb"/>
<circle cx="439.8" cy="40.5" r="2.85" fill="#ff0051"/>
<circle cx="362.8" cy="42.6" r="2.85" fill="#008bfb"/>
<circle cx="437.4" cy="51.0" r="2.85" fill="#008bfb"/>
<circle cx="468.1" cy="46.8" r="2.85" fill="#008bfb"/>
<circle cx="300.8" cy="55.2" r="2.85" fill="#f30070"/>
<circle cx="271.9" cy="44.7" r="2.85" fill="#008bfb"/>
<circle cx="366.4" cy="53.1" r="2.85" fill="#8047c9"/>
<circle cx="517.9" cy="46.8" r="2.85" fill="#008bfb"/>
<circle cx="266.3" cy="51.0" r="2.85" fill="#008bfb"/>
<circle cx="440.8" cy="55.2" r="2.85" fill="#008bfb"/>
<circle cx="306.2" cy="48.9" r="2.85" fill="#008bfb"/>
<circle cx="232.3" cy="44.7" r="2.85" fill="#008bfb"/>
<circle cx="413.0" cy="46.8" r="2.85" fill="#008bfb"/>
<circle cx="408.3" cy="48.9" r="2.85" fill="#008bfb"/>
<circle cx="421.3" cy="46.8" r="2.85" fill="#008bfb"/>
<circle cx="473.6" cy="44.7" r="2.85" fill="#008bfb"/>
<circle cx="273.9" cy="38.4" r="2.85" fill="#008bfb"/>
<circle cx="329.9" cy="53.1" r="2.85" fill="#008bfb"/>
<circle cx="301.2" cy="48.9" r="2.85" fill="#008bfb"/>
<circle cx="300.7" cy="42.6" r="2.85" fill="#008bfb"/>
<circle cx="315.2" cy="44.7" r="2.85" fill="#008bfb"/>
<circle cx="204.4" cy="44.7" r="2.85" fill="#008bfb"/>
<circle cx="391.0" cy="46.8" r="2.85" fill="#008bfb"/>
<circle cx="307.2" cy="44.7" r="2.85" fill="#aa17a7"/>
<circle cx="452.5" cy="42.6" r="2.85" fill="#ff0058"/>
<circle cx="532.3" cy="44.7" r="2.85" fill="#008bfb"/>
<circle cx="294.2" cy="51.0" r="2.85" fill="#008bfb"/>
<circle cx="408.4" cy="57.3" r="2.85" fill="#008bfb"/>
<circle cx="373.7" cy="48.9" r="2.85" fill="#ff0051"/>
<circle cx="441.2" cy="44.7" r="2.85" fill="#008bfb"/>
<circle cx="540.0" cy="42.6" r="2.85" fill="#008bfb"/>
<circle cx="329.2" cy="40.5" r="2.85" fill="#008bfb"/>
<circle cx="321.4" cy="51.0" r="2.85" fill="#008bfb"/>
<circle cx="298.7" cy="46.8" r="2.85" fill="#008bfb"/>
<circle cx="334.7" cy="40.5" r="2.85" fill="#008bfb"/>
<circle cx="531.0" cy="51.0" r="2.85" fill="#dd0088"/>
<circle cx="311.7" cy="51.0" r="2.85" fill="#008bfb"/>
<circle cx="427.5" cy="48.9" r="2.85" fill="#008bfb"/>
<circle cx="446.9" cy="51.0" r="2.85" fill="#008bfb"/>
<circle cx="272.0" cy="48.9" r="2.85" fill="#008bfb"/>
<circle cx="428.9" cy="46.8" r="2.85" fill="#bf009d"/>
<circle cx="214.3" cy="46.8" r="2.85" fill="#e9007c"/>
<circle cx="401.8" cy="46.8" r="2.85" fill="#008bfb"/>
<circle cx="376.1" cy="53.1" r="2.85" fill="#008bfb"/>
<circle cx="540.6" cy="44.7" r="2.85" fill="#008bfb"/>
<circle cx="447.4" cy="51.0" r="2.85" fill="#008bfb"/>
<circle cx="465.9" cy="51.0" r="2.85" fill="#ff0051"/>
<circle cx="426.0" cy="42.6" r="2.85" fill="#008bfb"/>
<circle cx="455.7" cy="55.2" r="2.85" fill="#b604a2"/>
<circle cx="397.7" cy="40.5" r="2.85" fill="#008bfb"/>
<circle cx="385.9" cy="55.2" r="2.85" fill="#ff0058"/>
<circle cx="470.5" cy="40.5" r="2.85" fill="#008bfb"/>
<circle cx="241.1" cy="42.6" r="2.85" fill="#008bfb"/>
<circle cx="304.3" cy="40.5" r="2.85" fill="#008bfb"/>
<circle cx="305.5" cy="53.1" r="2.85" fill="#008bfb"/>
<circle cx="313.0" cy="57.3" r="2.85" fill="#b604a2"/>
<circle cx="541.7" cy="46.8" r="2.85" fill="#883fc2"/>
<circle cx="409.8" cy="40.5" r="2.85" fill="#008bfb"/>
<circle cx="413.2" cy="48.9" r="2.85" fill="#008bfb"/>
<circle cx="302.1" cy="53.1" r="2.85" fill="#dd0088"/>
<circle cx="341.3" cy="44.7" r="2.85" fill="#008bfb"/>
<circle cx="416.0" cy="51.0" r="2.85" fill="#008bfb"/>
<circle cx="510.7" cy="53.1" r="2.85" fill="#fb0063"/>
<circle cx="328.6" cy="38.4" r="2.85" fill="#008bfb"/>
<circle cx="344.4" cy="53.1" r="2.85" fill="#e9007c"/>
<circle cx="332.7" cy="46.8" r="2.85" fill="#008bfb"/>
<circle cx="420.0" cy="46.8" r="2.85" fill="#008bfb"/>
<circle cx="379.3" cy="57.3" r="2.85" fill="#008bfb"/>
<circle cx="276.9" cy="44.7" r="2.85" fill="#008bfb"/>
<circle cx="384.8" cy="48.9" r="2.85" fill="#008bfb"/>
<circle cx="507.5" cy="44.7" r="2.85" fill="#008bfb"/>
<circle cx="258.0" cy="46.8" r="2.85" fill="#ff0058"/>
<circle cx="516.2" cy="55.2" r="2.85" fill="#008bfb"/>
<circle cx="269.8" cy="42.6" r="2.85" fill="#008bfb"/>
<circle cx="273.6" cy="48.9" r="2.85" fill="#008bfb"/>
<circle cx="386.6" cy="57.3" r="2.85" fill="#ff0051"/>
<circle cx="342.7" cy="44.7" r="2.85" fill="#008bfb"/>
<circle cx="337.9" cy="51.0" r="2.85" fill="#ff0051"/>
<circle cx="400.1" cy="48.9" r="2.85" fill="#f30070"/>
<circle cx="371.5" cy="40.5" r="2.85" fill="#ff0058"/>
<circle cx="545.1" cy="46.8" r="2.85" fill="#008bfb"/>
<circle cx="323.5" cy="42.6" r="2.85" fill="#ff0051"/>
<circle cx="313.9" cy="38.4" r="2.85" fill="#008bfb"/>
<circle cx="235.6" cy="53.1" r="2.85" fill="#008bfb"/>
<circle cx="373.5" cy="55.2" r="2.85" fill="#ff0051"/>
<circle cx="347.1" cy="42.6" r="2.85" fill="#008bfb"/>
<circle cx="429.4" cy="51.0" r="2.85" fill="#ff0058"/>
<circle cx="437.8" cy="44.7" r="2.85" fill="#008bfb"/>
<circle cx="458.8" cy="51.0" r="2.85" fill="#008bfb"/>
<circle cx="482.6" cy="57.3" r="2.85" fill="#008bfb"/>
<circle cx="513.2" cy="53.1" r="2.85" fill="#008bfb"/>
<circle cx="401.0" cy="51.0" r="2.85" fill="#008bfb"/>
<circle cx="489.6" cy="44.7" r="2.85" fill="#008bfb"/>
<circle cx="379.1" cy="48.9" r="2.85" fill="#008bfb"/>
<circle cx="414.0" cy="42.6" r="2.85" fill="#008bfb"/>
<circle cx="276.9" cy="40.5" r="2.85" fill="#008bfb"/>
<circle cx="482.7" cy="48.9" r="2.85" fill="#008bfb"/>
<circle cx="255.9" cy="53.1" r="2.85" fill="#008bfb"/>
<circle cx="218.5" cy="46.8" r="2.85" fill="#008bfb"/>
<circle cx="240.4" cy="44.7" r="2.85" fill="#008bfb"/>
<circle cx="538.3" cy="44.7" r="2.85" fill="#008bfb"/>
<circle cx="352.7" cy="42.6" r="2.85" fill="#ff0058"/>
<circle cx="450.0" cy="46.8" r="2.85" fill="#008bfb"/>
<circle cx="470.4" cy="38.4" r="2.85" fill="#008bfb"/>
<circle cx="369.6" cy="53.1" r="2.85" fill="#008bfb"/>
<circle cx="275.5" cy="51.0" r="2.85" fill="#008bfb"/>
<circle cx="305.0" cy="51.0" r="2.85" fill="#008bfb"/>
<circle cx="545.5" cy="51.0" r="2.85" fill="#008bfb"/>
<circle cx="251.2" cy="44.7" r="2.85" fill="#008bfb"/>
<circle cx="322.1" cy="48.9" r="2.85" fill="#008bfb"/>
<circle cx="442.9" cy="44.7" r="2.85" fill="#008bfb"/>
<circle cx="349.7" cy="40.5" r="2.85" fill="#008bfb"/>
<circle cx="360.1" cy="46.8" r="2.85" fill="#008bfb"/>
<circle cx="225.9" cy="44.7" r="2.85" fill="#008bfb"/>
<circle cx="485.4" cy="55.2" r="2.85" fill="#008bfb"/>
<circle cx="300.0" cy="38.4" r="2.85" fill="#dd0088"/>
<circle cx="485.9" cy="40.5" r="2.85" fill="#8f36bb"/>
<circle cx="335.5" cy="48.9" r="2.85" fill="#008bfb"/>
<circle cx="280.4" cy="42.6" r="2.85" fill="#008bfb"/>
<circle cx="298.4" cy="42.6" r="2.85" fill="#008bfb"/>
<circle cx="218.5" cy="42.6" r="2.85" fill="#8d39be"/>
<circle cx="207.7" cy="46.8" r="2.85" fill="#e9007c"/>
<circle cx="438.3" cy="38.4" r="2.85" fill="#008bfb"/>
<circle cx="222.6" cy="46.8" r="2.85" fill="#008bfb"/>
<circle cx="309.6" cy="44.7" r="2.85" fill="#008bfb"/>
<circle cx="512.3" cy="42.6" r="2.85" fill="#008bfb"/>
<circle cx="452.7" cy="53.1" r="2.85" fill="#008bfb"/>
<circle cx="510.9" cy="44.7" r="2.85" fill="#008bfb"/>
<circle cx="287.1" cy="38.4" r="2.85" fill="#008bfb"/>
<circle cx="427.0" cy="40.5" r="2.85" fill="#008bfb"/>
<circle cx="516.7" cy="42.6" r="2.85" fill="#008bfb"/>
<circle cx="308.8" cy="53.1" r="2.85" fill="#b900a0"/>
<circle cx="416.5" cy="38.4" r="2.85" fill="#008bfb"/>
<circle cx="222.9" cy="44.7" r="2.85" fill="#008bfb"/>
<circle cx="268.2" cy="42.6" r="2.85" fill="#008bfb"/>
<circle cx="443.5" cy="36.3" r="2.85" fill="#ff0058"/>
<circle cx="422.9" cy="40.5" r="2.85" fill="#008bfb"/>
<circle cx="498.9" cy="48.9" r="2.85" fill="#008bfb"/>
<circle cx="292.4" cy="55.2" r="2.85" fill="#008bfb"/>
<circle cx="512.5" cy="40.5" r="2.85" fill="#9430b6"/>
<circle cx="479.5" cy="51.0" r="2.85" fill="#008bfb"/>
<circle cx="468.1" cy="53.1" r="2.85" fill="#008bfb"/>
<circle cx="251.2" cy="53.1" r="2.85" fill="#ff0058"/>
<circle cx="435.7" cy="46.8" r="2.85" fill="#008bfb"/>
<circle cx="227.1" cy="48.9" r="2.85" fill="#008bfb"/>
<circle cx="382.0" cy="40.5" r="2.85" fill="#6c54d6"/>
<circle cx="242.0" cy="51.0" r="2.85" fill="#008bfb"/>
<circle cx="504.9" cy="40.5" r="2.85" fill="#a31daa"/>
<circle cx="323.6" cy="44.7" r="2.85" fill="#008bfb"/>
<circle cx="373.8" cy="51.0" r="2.85" fill="#008bfb"/>
<circle cx="352.2" cy="51.0" r="2.85" fill="#008bfb"/>
<circle cx="378.6" cy="44.7" r="2.85" fill="#008bfb"/>
<circle cx="303.8" cy="38.4" r="2.85" fill="#008bfb"/>
<circle cx="404.2" cy="42.6" r="2.85" fill="#008bfb"/>
<circle cx="216.9" cy="51.0" r="2.85" fill="#ff0051"/>
<circle cx="504.7" cy="46.8" r="2.85" fill="#008bfb"/>
<circle cx="431.8" cy="46.8" r="2.85" fill="#008bfb"/>
<circle cx="242.8" cy="44.7" r="2.85" fill="#008bfb"/>
<circle cx="320.7" cy="36.3" r="2.85" fill="#008bfb"/>
<circle cx="285.1" cy="53.1" r="2.85" fill="#008bfb"/>
<circle cx="317.0" cy="48.9" r="2.85" fill="#008bfb"/>
<circle cx="447.2" cy="40.5" r="2.85" fill="#008bfb"/>
<circle cx="244.6" cy="51.0" r="2.85" fill="#008bfb"/>
<circle cx="331.6" cy="55.2" r="2.85" fill="#008bfb"/>
<circle cx="273.7" cy="46.8" r="2.85" fill="#008bfb"/>
<circle cx="304.7" cy="55.2" r="2.85" fill="#008bfb"/>
<circle cx="408.8" cy="38.4" r="2.85" fill="#ff0051"/>
<circle cx="492.0" cy="42.6" r="2.85" fill="#008bfb"/>
<circle cx="469.2" cy="42.6" r="2.85" fill="#008bfb"/>
<circle cx="256.8" cy="51.0" r="2.85" fill="#008bfb"/>
<circle cx="460.0" cy="42.6" r="2.85" fill="#008bfb"/>
<circle cx="323.9" cy="55.2" r="2.85" fill="#008bfb"/>
<circle cx="247.7" cy="51.0" r="2.85" fill="#e9007c"/>
<circle cx="215.9" cy="44.7" r="2.85" fill="#008bfb"/>
<circle cx="288.1" cy="53.1" r="2.85" fill="#dd0088"/>
<circle cx="374.0" cy="46.8" r="2.85" fill="#008bfb"/>
<circle cx="523.4" cy="42.6" r="2.85" fill="#008bfb"/>
<circle cx="253.7" cy="42.6" r="2.85" fill="#008bfb"/>
<circle cx="516.8" cy="40.5" r="2.85" fill="#008bfb"/>
<circle cx="493.8" cy="46.8" r="2.85" fill="#008bfb"/>
<circle cx="424.6" cy="42.6" r="2.85" fill="#008bfb"/>
<circle cx="535.4" cy="46.8" r="2.85" fill="#ff0051"/>
<circle cx="418.1" cy="42.6" r="2.85" fill="#008bfb"/>
<circle cx="245.8" cy="53.1" r="2.85" fill="#008bfb"/>
<circle cx="281.1" cy="40.5" r="2.85" fill="#008bfb"/>
<circle cx="519.9" cy="51.0" r="2.85" fill="#008bfb"/>
<circle cx="298.0" cy="55.2" r="2.85" fill="#008bfb"/>
<circle cx="373.7" cy="44.7" r="2.85" fill="#008bfb"/>
<circle cx="383.5" cy="36.3" r="2.85" fill="#008bfb"/>
<circle cx="322.9" cy="59.4" r="2.85" fill="#008bfb"/>
<circle cx="389.3" cy="40.5" r="2.85" fill="#008bfb"/>
<circle cx="292.9" cy="53.1" r="2.85" fill="#008bfb"/>
<circle cx="465.1" cy="42.6" r="2.85" fill="#6f52d4"/>
<circle cx="330.4" cy="36.3" r="2.85" fill="#008bfb"/>
<circle cx="391.8" cy="48.9" r="2.85" fill="#008bfb"/>
<circle cx="474.3" cy="36.3" r="2.85" fill="#008bfb"/>
<circle cx="360.9" cy="38.4" r="2.85" fill="#ff0051"/>
<circle cx="470.2" cy="48.9" r="2.85" fill="#008bfb"/>
<circle cx="387.7" cy="46.8" r="2.85" fill="#008bfb"/>
<circle cx="417.4" cy="53.1" r="2.85" fill="#dd0088"/>
<circle cx="464.8" cy="44.7" r="2.85" fill="#008bfb"/>
<circle cx="398.8" cy="46.8" r="2.85" fill="#fb0063"/>
<circle cx="371.9" cy="51.0" r="2.85" fill="#008bfb"/>
<circle cx="369.7" cy="44.7" r="2.85" fill="#f30070"/>
<circle cx="254.4" cy="48.9" r="2.85" fill="#008bfb"/>
<circle cx="545.8" cy="42.6" r="2.85" fill="#008bfb"/>
<circle cx="352.2" cy="36.3" r="2.85" fill="#008bfb"/>
<circle cx="432.4" cy="48.9" r="2.85" fill="#883fc2"/>
<circle cx="393.4" cy="42.6" r="2.85" fill="#008bfb"/>
<circle cx="434.3" cy="55.2" r="2.85" fill="#008bfb"/>
<circle cx="366.3" cy="48.9" r="2.85" fill="#008bfb"/>
<circle cx="331.6" cy="51.0" r="2.85" fill="#008bfb"/>
<circle cx="501.4" cy="40.5" r="2.85" fill="#a31daa"/>
<circle cx="484.4" cy="42.6" r="2.85" fill="#008bfb"/>
<circle cx="457.0" cy="40.5" r="2.85" fill="#a71aa9"/>
<circle cx="392.3" cy="40.5" r="2.85" fill="#008bfb"/>
<circle cx="401.9" cy="53.1" r="2.85" fill="#ff0051"/>
<circle cx="148.8" cy="47.3" r="2.85" fill="#008bfb"/>
<circle cx="158.9" cy="47.5" r="2.85" fill="#008bfb"/>
<circle cx="161.0" cy="47.5" r="2.85" fill="#008bfb"/>
<circle cx="163.4" cy="46.4" r="2.85" fill="#008bfb"/>
<circle cx="165.1" cy="47.5" r="2.85" fill="#008bfb"/>
<circle cx="172.7" cy="47.5" r="2.85" fill="#008bfb"/>
<circle cx="174.1" cy="49.3" r="2.85" fill="#008bfb"/>
<circle cx="176.8" cy="47.3" r="2.85" fill="#008bfb"/>
<circle cx="184.2" cy="47.3" r="2.85" fill="#008bfb"/>
<circle cx="186.7" cy="48.1" r="2.85" fill="#008bfb"/>
<circle cx="189.1" cy="46.9" r="2.85" fill="#008bfb"/>
<circle cx="193.2" cy="45.8" r="2.85" fill="#008bfb"/>
<circle cx="199.0" cy="47.3" r="2.85" fill="#8047c9"/>
<circle cx="201.9" cy="47.5" r="2.85" fill="#008bfb"/>
<circle cx="211.6" cy="48.2" r="2.85" fill="#8047c9"/>
<circle cx="217.6" cy="44.9" r="2.85" fill="#e9007c"/>
<circle cx="225.6" cy="43.6" r="2.85" fill="#ff0051"/>
<circle cx="236.0" cy="41.0" r="2.85" fill="#ff0051"/>
<circle cx="255.4" cy="40.3" r="2.85" fill="#ff0051"/>
<circle cx="252.0" cy="54.2" r="2.85" fill="#ff0051"/>
<circle cx="254.7" cy="52.2" r="2.85" fill="#ff0051"/>
<circle cx="268.0" cy="52.2" r="2.85" fill="#8047c9"/>
<circle cx="270.6" cy="54.2" r="2.85" fill="#ff0051"/>
<circle cx="272.6" cy="38.9" r="2.85" fill="#e9007c"/>
<circle cx="557.2" cy="45.0" r="2.85" fill="#ff0051"/>
<circle cx="570.0" cy="48.4" r="2.85" fill="#008bfb"/>
<circle cx="568.4" cy="46.7" r="2.85" fill="#ff0051"/>
<circle cx="544.9" cy="47.9" r="2.85" fill="#008bfb"/>
<circle cx="544.9" cy="42.9" r="2.85" fill="#008bfb"/>
<circle cx="547.9" cy="44.9" r="2.85" fill="#008bfb"/>
<circle cx="549.9" cy="43.4" r="2.85" fill="#008bfb"/>
<circle cx="551.9" cy="41.9" r="2.85" fill="#008bfb"/>
<circle cx="548.9" cy="51.4" r="2.85" fill="#008bfb"/>
<circle cx="547.5" cy="48.5" r="2.85" fill="#008bfb"/>
<circle cx="552.5" cy="46.5" r="2.85" fill="#008bfb"/>
<circle cx="546.5" cy="50.3" r="2.85" fill="#008bfb"/>
<circle cx="585.1" cy="47.4" r="2.85" fill="#008bfb"/>
<circle cx="569.6" cy="46.4" r="2.85" fill="#8047c9"/>
<circle cx="563.3" cy="47.9" r="2.85" fill="#008bfb"/>
<circle cx="559.3" cy="47.9" r="2.85" fill="#008bfb"/>
<circle cx="556.4" cy="46.9" r="2.85" fill="#008bfb"/>
<circle cx="553.6" cy="47.6" r="2.85" fill="#008bfb"/>
<circle cx="550.4" cy="49.7" r="2.85" fill="#ff0051"/>
<circle cx="540.0" cy="43.4" r="2.85" fill="#e9007c"/>
<circle cx="337.9" cy="89.5" r="2.85" fill="#008bfb"/>
<circle cx="341.6" cy="89.5" r="2.85" fill="#8047c9"/>
<circle cx="377.4" cy="91.1" r="2.85" fill="#008bfb"/>
<circle cx="479.6" cy="87.3" r="2.85" fill="#008bfb"/>
<circle cx="363.5" cy="79.7" r="2.85" fill="#008bfb"/>
<circle cx="498.9" cy="85.4" r="2.85" fill="#008bfb"/>
<circle cx="407.6" cy="91.1" r="2.85" fill="#ff0051"/>
<circle cx="388.7" cy="87.3" r="2.85" fill="#008bfb"/>
<circle cx="475.9" cy="85.4" r="2.85" fill="#008bfb"/>
<circle cx="383.2" cy="87.3" r="2.85" fill="#fb0063"/>
<circle cx="504.7" cy="89.2" r="2.85" fill="#008bfb"/>
<circle cx="351.7" cy="83.5" r="2.85" fill="#008bfb"/>
<circle cx="496.3" cy="87.3" r="2.85" fill="#008bfb"/>
<circle cx="422.6" cy="87.3" r="2.85" fill="#a31daa"/>
<circle cx="484.7" cy="91.1" r="2.85" fill="#008bfb"/>
<circle cx="478.3" cy="89.2" r="2.85" fill="#008bfb"/>
<circle cx="393.2" cy="93.0" r="2.85" fill="#9d22ac"/>
<circle cx="503.4" cy="87.3" r="2.85" fill="#008bfb"/>
<circle cx="494.2" cy="89.2" r="2.85" fill="#008bfb"/>
<circle cx="436.9" cy="87.3" r="2.85" fill="#008bfb"/>
<circle cx="460.5" cy="87.3" r="2.85" fill="#008bfb"/>
<circle cx="440.1" cy="93.0" r="2.85" fill="#008bfb"/>
<circle cx="447.5" cy="93.0" r="2.85" fill="#008bfb"/>
<circle cx="375.1" cy="87.3" r="2.85" fill="#008bfb"/>
<circle cx="356.0" cy="94.9" r="2.85" fill="#008bfb"/>
<circle cx="440.3" cy="89.2" r="2.85" fill="#008bfb"/>
<circle cx="450.6" cy="93.0" r="2.85" fill="#008bfb"/>
<circle cx="501.9" cy="91.1" r="2.85" fill="#008bfb"/>
<circle cx="494.9" cy="85.4" r="2.85" fill="#008bfb"/>
<circle cx="489.0" cy="91.1" r="2.85" fill="#008bfb"/>
<circle cx="433.7" cy="91.1" r="2.85" fill="#008bfb"/>
<circle cx="378.9" cy="89.2" r="2.85" fill="#008bfb"/>
<circle cx="447.0" cy="91.1" r="2.85" fill="#008bfb"/>
<circle cx="480.6" cy="89.2" r="2.85" fill="#008bfb"/>
<circle cx="493.2" cy="93.0" r="2.85" fill="#008bfb"/>
<circle cx="354.4" cy="91.1" r="2.85" fill="#008bfb"/>
<circle cx="362.4" cy="89.2" r="2.85" fill="#008bfb"/>
<circle cx="367.3" cy="85.4" r="2.85" fill="#008bfb"/>
<circle cx="390.6" cy="87.3" r="2.85" fill="#008bfb"/>
<circle cx="348.7" cy="85.4" r="2.85" fill="#008bfb"/>
<circle cx="486.8" cy="87.3" r="2.85" fill="#008bfb"/>
<circle cx="424.4" cy="91.1" r="2.85" fill="#008bfb"/>
<circle cx="360.2" cy="79.7" r="2.85" fill="#008bfb"/>
<circle cx="463.2" cy="89.2" r="2.85" fill="#008bfb"/>
<circle cx="471.7" cy="93.0" r="2.85" fill="#008bfb"/>
<circle cx="466.0" cy="89.2" r="2.85" fill="#008bfb"/>
<circle cx="485.3" cy="93.0" r="2.85" fill="#008bfb"/>
<circle cx="362.4" cy="91.1" r="2.85" fill="#008bfb"/>
<circle cx="492.0" cy="89.2" r="2.85" fill="#6857d8"/>
<circle cx="367.3" cy="94.9" r="2.85" fill="#008bfb"/>
<circle cx="414.2" cy="89.2" r="2.85" fill="#008bfb"/>
<circle cx="364.2" cy="102.5" r="2.85" fill="#008bfb"/>
<circle cx="369.3" cy="91.1" r="2.85" fill="#008bfb"/>
<circle cx="364.6" cy="85.4" r="2.85" fill="#7d49cc"/>
<circle cx="505.9" cy="91.1" r="2.85" fill="#8542c5"/>
<circle cx="415.5" cy="91.1" r="2.85" fill="#008bfb"/>
<circle cx="508.6" cy="91.1" r="2.85" fill="#008bfb"/>
<circle cx="361.1" cy="87.3" r="2.85" fill="#008bfb"/>
<circle cx="358.1" cy="94.9" r="2.85" fill="#008bfb"/>
<circle cx="494.0" cy="87.3" r="2.85" fill="#008bfb"/>
<circle cx="386.1" cy="89.2" r="2.85" fill="#008bfb"/>
<circle cx="373.0" cy="87.3" r="2.85" fill="#008bfb"/>
<circle cx="462.3" cy="91.1" r="2.85" fill="#008bfb"/>
<circle cx="359.0" cy="85.4" r="2.85" fill="#008bfb"/>
<circle cx="348.6" cy="93.0" r="2.85" fill="#008bfb"/>
<circle cx="475.8" cy="93.0" r="2.85" fill="#008bfb"/>
<circle cx="376.6" cy="89.2" r="2.85" fill="#008bfb"/>
<circle cx="369.4" cy="85.4" r="2.85" fill="#008bfb"/>
<circle cx="444.4" cy="87.3" r="2.85" fill="#008bfb"/>
<circle cx="363.0" cy="81.6" r="2.85" fill="#008bfb"/>
<circle cx="488.7" cy="93.0" r="2.85" fill="#008bfb"/>
<circle cx="374.1" cy="91.1" r="2.85" fill="#008bfb"/>
<circle cx="354.3" cy="89.2" r="2.85" fill="#008bfb"/>
<circle cx="384.3" cy="89.2" r="2.85" fill="#008bfb"/>
<circle cx="440.2" cy="91.1" r="2.85" fill="#008bfb"/>
<circle cx="355.5" cy="93.0" r="2.85" fill="#008bfb"/>
<circle cx="468.0" cy="89.2" r="2.85" fill="#008bfb"/>
<circle cx="444.7" cy="87.3" r="2.85" fill="#008bfb"/>
<circle cx="347.0" cy="91.1" r="2.85" fill="#008bfb"/>
<circle cx="499.6" cy="91.1" r="2.85" fill="#008bfb"/>
<circle cx="343.8" cy="91.1" r="2.85" fill="#008bfb"/>
<circle cx="375.3" cy="89.2" r="2.85" fill="#008bfb"/>
<circle cx="397.0" cy="91.1" r="2.85" fill="#008bfb"/>
<circle cx="397.9" cy="87.3" r="2.85" fill="#008bfb"/>
<circle cx="358.7" cy="75.9" r="2.85" fill="#008bfb"/>
<circle cx="408.8" cy="91.1" r="2.85" fill="#e9007c"/>
<circle cx="355.5" cy="96.8" r="2.85" fill="#008bfb"/>
<circle cx="357.5" cy="79.7" r="2.85" fill="#008bfb"/>
<circle cx="457.5" cy="93.0" r="2.85" fill="#008bfb"/>
<circle cx="416.8" cy="89.2" r="2.85" fill="#008bfb"/>
<circle cx="481.2" cy="91.1" r="2.85" fill="#008bfb"/>
<circle cx="413.2" cy="91.1" r="2.85" fill="#008bfb"/>
<circle cx="443.5" cy="89.2" r="2.85" fill="#8a3cc0"/>
<circle cx="357.6" cy="81.6" r="2.85" fill="#008bfb"/>
<circle cx="360.9" cy="94.9" r="2.85" fill="#008bfb"/>
<circle cx="461.8" cy="93.0" r="2.85" fill="#008bfb"/>
<circle cx="388.0" cy="91.1" r="2.85" fill="#008bfb"/>
<circle cx="392.0" cy="93.0" r="2.85" fill="#fb0063"/>
<circle cx="483.8" cy="89.2" r="2.85" fill="#008bfb"/>
<circle cx="487.7" cy="91.1" r="2.85" fill="#008bfb"/>
<circle cx="364.5" cy="81.6" r="2.85" fill="#008bfb"/>
<circle cx="365.3" cy="100.6" r="2.85" fill="#008bfb"/>
<circle cx="359.4" cy="96.8" r="2.85" fill="#ff0051"/>
<circle cx="376.2" cy="94.9" r="2.85" fill="#008bfb"/>
<circle cx="371.6" cy="96.8" r="2.85" fill="#008bfb"/>
<circle cx="354.3" cy="94.9" r="2.85" fill="#008bfb"/>
<circle cx="416.8" cy="91.1" r="2.85" fill="#008bfb"/>
<circle cx="355.9" cy="89.2" r="2.85" fill="#008bfb"/>
<circle cx="389.9" cy="91.1" r="2.85" fill="#008bfb"/>
<circle cx="442.4" cy="91.1" r="2.85" fill="#008bfb"/>
<circle cx="357.3" cy="93.0" r="2.85" fill="#008bfb"/>
<circle cx="404.7" cy="91.1" r="2.85" fill="#008bfb"/>
<circle cx="357.4" cy="87.3" r="2.85" fill="#008bfb"/>
<circle cx="359.3" cy="100.6" r="2.85" fill="#008bfb"/>
<circle cx="355.2" cy="87.3" r="2.85" fill="#008bfb"/>
<circle cx="365.7" cy="89.2" r="2.85" fill="#008bfb"/>
<circle cx="375.8" cy="93.0" r="2.85" fill="#008bfb"/>
<circle cx="419.5" cy="89.2" r="2.85" fill="#008bfb"/>
<circle cx="476.6" cy="87.3" r="2.85" fill="#008bfb"/>
<circle cx="356.2" cy="91.1" r="2.85" fill="#008bfb"/>
<circle cx="428.4" cy="87.3" r="2.85" fill="#008bfb"/>
<circle cx="502.8" cy="93.0" r="2.85" fill="#008bfb"/>
<circle cx="424.3" cy="89.2" r="2.85" fill="#6459da"/>
<circle cx="441.4" cy="93.0" r="2.85" fill="#008bfb"/>
<circle cx="359.4" cy="94.9" r="2.85" fill="#f30070"/>
<circle cx="399.3" cy="89.2" r="2.85" fill="#008bfb"/>
<circle cx="446.5" cy="89.2" r="2.85" fill="#008bfb"/>
<circle cx="382.0" cy="87.3" r="2.85" fill="#008bfb"/>
<circle cx="471.3" cy="89.2" r="2.85" fill="#008bfb"/>
<circle cx="358.1" cy="83.5" r="2.85" fill="#008bfb"/>
<circle cx="496.9" cy="91.1" r="2.85" fill="#008bfb"/>
<circle cx="480.6" cy="87.3" r="2.85" fill="#008bfb"/>
<circle cx="513.2" cy="89.2" r="2.85" fill="#008bfb"/>
<circle cx="349.2" cy="91.1" r="2.85" fill="#008bfb"/>
<circle cx="498.4" cy="89.2" r="2.85" fill="#008bfb"/>
<circle cx="507.8" cy="89.2" r="2.85" fill="#ff0051"/>
<circle cx="500.5" cy="89.2" r="2.85" fill="#008bfb"/>
<circle cx="430.9" cy="91.1" r="2.85" fill="#008bfb"/>
<circle cx="489.6" cy="87.3" r="2.85" fill="#008bfb"/>
<circle cx="360.7" cy="98.7" r="2.85" fill="#008bfb"/>
<circle cx="477.5" cy="91.1" r="2.85" fill="#7d49cc"/>
<circle cx="436.3" cy="91.1" r="2.85" fill="#008bfb"/>
<circle cx="365.9" cy="102.5" r="2.85" fill="#ff0058"/>
<circle cx="357.5" cy="96.8" r="2.85" fill="#008bfb"/>
<circle cx="422.2" cy="89.2" r="2.85" fill="#008bfb"/>
<circle cx="470.8" cy="87.3" r="2.85" fill="#dd0088"/>
<circle cx="352.9" cy="85.4" r="2.85" fill="#008bfb"/>
<circle cx="444.9" cy="91.1" r="2.85" fill="#008bfb"/>
<circle cx="352.0" cy="91.1" r="2.85" fill="#008bfb"/>
<circle cx="356.9" cy="98.7" r="2.85" fill="#008bfb"/>
<circle cx="425.6" cy="89.2" r="2.85" fill="#008bfb"/>
<circle cx="353.2" cy="93.0" r="2.85" fill="#008bfb"/>
<circle cx="366.8" cy="81.6" r="2.85" fill="#008bfb"/>
<circle cx="363.7" cy="94.9" r="2.85" fill="#008bfb"/>
<circle cx="454.5" cy="93.0" r="2.85" fill="#008bfb"/>
<circle cx="371.0" cy="93.0" r="2.85" fill="#008bfb"/>
<circle cx="492.5" cy="87.3" r="2.85" fill="#008bfb"/>
<circle cx="504.8" cy="87.3" r="2.85" fill="#008bfb"/>
<circle cx="371.7" cy="87.3" r="2.85" fill="#008bfb"/>
<circle cx="363.1" cy="100.6" r="2.85" fill="#ff0051"/>
<circle cx="420.6" cy="87.3" r="2.85" fill="#008bfb"/>
<circle cx="487.6" cy="89.2" r="2.85" fill="#008bfb"/>
<circle cx="499.8" cy="87.3" r="2.85" fill="#008bfb"/>
<circle cx="369.2" cy="89.2" r="2.85" fill="#008bfb"/>
<circle cx="355.3" cy="79.7" r="2.85" fill="#008bfb"/>
<circle cx="367.2" cy="96.8" r="2.85" fill="#008bfb"/>
<circle cx="487.5" cy="93.0" r="2.85" fill="#fb0063"/>
<circle cx="450.1" cy="87.3" r="2.85" fill="#008bfb"/>
<circle cx="397.9" cy="89.2" r="2.85" fill="#008bfb"/>
<circle cx="435.6" cy="87.3" r="2.85" fill="#008bfb"/>
<circle cx="443.7" cy="91.1" r="2.85" fill="#008bfb"/>
<circle cx="392.4" cy="91.1" r="2.85" fill="#008bfb"/>
<circle cx="365.4" cy="93.0" r="2.85" fill="#008bfb"/>
<circle cx="387.9" cy="89.2" r="2.85" fill="#008bfb"/>
<circle cx="366.5" cy="83.5" r="2.85" fill="#008bfb"/>
<circle cx="500.2" cy="93.0" r="2.85" fill="#008bfb"/>
<circle cx="479.8" cy="89.2" r="2.85" fill="#008bfb"/>
<circle cx="354.4" cy="87.3" r="2.85" fill="#008bfb"/>
<circle cx="346.6" cy="87.3" r="2.85" fill="#008bfb"/>
<circle cx="483.3" cy="91.1" r="2.85" fill="#008bfb"/>
<circle cx="368.7" cy="81.6" r="2.85" fill="#008bfb"/>
<circle cx="365.3" cy="83.5" r="2.85" fill="#008bfb"/>
<circle cx="502.3" cy="89.2" r="2.85" fill="#008bfb"/>
<circle cx="506.3" cy="93.0" r="2.85" fill="#008bfb"/>
<circle cx="441.5" cy="87.3" r="2.85" fill="#008bfb"/>
<circle cx="474.0" cy="85.4" r="2.85" fill="#008bfb"/>
<circle cx="351.1" cy="93.0" r="2.85" fill="#008bfb"/>
<circle cx="351.7" cy="89.2" r="2.85" fill="#008bfb"/>
<circle cx="361.3" cy="96.8" r="2.85" fill="#9829b1"/>
<circle cx="494.5" cy="93.0" r="2.85" fill="#008bfb"/>
<circle cx="384.6" cy="87.3" r="2.85" fill="#008bfb"/>
<circle cx="351.4" cy="85.4" r="2.85" fill="#008bfb"/>
<circle cx="494.6" cy="91.1" r="2.85" fill="#008bfb"/>
<circle cx="511.9" cy="89.2" r="2.85" fill="#008bfb"/>
<circle cx="484.7" cy="87.3" r="2.85" fill="#008bfb"/>
<circle cx="357.7" cy="85.4" r="2.85" fill="#008bfb"/>
<circle cx="497.3" cy="87.3" r="2.85" fill="#008bfb"/>
<circle cx="467.1" cy="87.3" r="2.85" fill="#008bfb"/>
<circle cx="454.4" cy="87.3" r="2.85" fill="#008bfb"/>
<circle cx="363.5" cy="93.0" r="2.85" fill="#008bfb"/>
<circle cx="463.7" cy="91.1" r="2.85" fill="#008bfb"/>
<circle cx="459.2" cy="93.0" r="2.85" fill="#008bfb"/>
<circle cx="514.3" cy="91.1" r="2.85" fill="#008bfb"/>
<circle cx="377.9" cy="87.3" r="2.85" fill="#008bfb"/>
<circle cx="381.6" cy="91.1" r="2.85" fill="#008bfb"/>
<circle cx="364.5" cy="91.1" r="2.85" fill="#008bfb"/>
<circle cx="482.6" cy="87.3" r="2.85" fill="#008bfb"/>
<circle cx="361.9" cy="79.7" r="2.85" fill="#008bfb"/>
<circle cx="454.8" cy="89.2" r="2.85" fill="#008bfb"/>
<circle cx="453.7" cy="91.1" r="2.85" fill="#008bfb"/>
<circle cx="348.5" cy="87.3" r="2.85" fill="#008bfb"/>
<circle cx="363.6" cy="83.5" r="2.85" fill="#008bfb"/>
<circle cx="364.0" cy="89.2" r="2.85" fill="#008bfb"/>
<circle cx="470.1" cy="91.1" r="2.85" fill="#008bfb"/>
<circle cx="433.8" cy="89.2" r="2.85" fill="#008bfb"/>
<circle cx="348.6" cy="89.2" r="2.85" fill="#008bfb"/>
<circle cx="362.7" cy="87.3" r="2.85" fill="#008bfb"/>
<circle cx="404.6" cy="89.2" r="2.85" fill="#dd0088"/>
<circle cx="380.3" cy="85.4" r="2.85" fill="#8244c7"/>
<circle cx="362.3" cy="77.8" r="2.85" fill="#008bfb"/>
<circle cx="453.8" cy="89.2" r="2.85" fill="#008bfb"/>
<circle cx="364.9" cy="87.3" r="2.85" fill="#008bfb"/>
<circle cx="475.6" cy="91.1" r="2.85" fill="#008bfb"/>
<circle cx="437.4" cy="91.1" r="2.85" fill="#008bfb"/>
<circle cx="460.1" cy="91.1" r="2.85" fill="#008bfb"/>
<circle cx="457.0" cy="91.1" r="2.85" fill="#008bfb"/>
<circle cx="367.1" cy="98.7" r="2.85" fill="#ff0051"/>
<circle cx="496.6" cy="85.4" r="2.85" fill="#008bfb"/>
<circle cx="472.0" cy="91.1" r="2.85" fill="#008bfb"/>
<circle cx="354.3" cy="79.7" r="2.85" fill="#008bfb"/>
<circle cx="365.0" cy="94.9" r="2.85" fill="#008bfb"/>
<circle cx="415.0" cy="87.3" r="2.85" fill="#e9007c"/>
<circle cx="360.0" cy="93.0" r="2.85" fill="#008bfb"/>
<circle cx="358.9" cy="81.6" r="2.85" fill="#008bfb"/>
<circle cx="359.1" cy="89.2" r="2.85" fill="#008bfb"/>
<circle cx="361.5" cy="93.0" r="2.85" fill="#008bfb"/>
<circle cx="431.1" cy="87.3" r="2.85" fill="#008bfb"/>
<circle cx="359.6" cy="98.7" r="2.85" fill="#8a3cc0"/>
<circle cx="512.0" cy="91.1" r="2.85" fill="#008bfb"/>
<circle cx="394.4" cy="91.1" r="2.85" fill="#008bfb"/>
<circle cx="476.6" cy="93.0" r="2.85" fill="#008bfb"/>
<circle cx="476.2" cy="87.3" r="2.85" fill="#008bfb"/>
<circle cx="376.2" cy="91.1" r="2.85" fill="#008bfb"/>
<circle cx="350.3" cy="94.9" r="2.85" fill="#008bfb"/>
<circle cx="446.3" cy="89.2" r="2.85" fill="#bf009d"/>
<circle cx="374.3" cy="89.2" r="2.85" fill="#b900a0"/>
<circle cx="480.0" cy="93.0" r="2.85" fill="#008bfb"/>
<circle cx="357.9" cy="89.2" r="2.85" fill="#008bfb"/>
<circle cx="371.3" cy="94.9" r="2.85" fill="#008bfb"/>
<circle cx="345.3" cy="91.1" r="2.85" fill="#008bfb"/>
<circle cx="359.1" cy="87.3" r="2.85" fill="#008bfb"/>
<circle cx="362.7" cy="91.1" r="2.85" fill="#008bfb"/>
<circle cx="409.0" cy="89.2" r="2.85" fill="#008bfb"/>
<circle cx="361.9" cy="102.5" r="2.85" fill="#ff0051"/>
<circle cx="368.9" cy="93.0" r="2.85" fill="#008bfb"/>
<circle cx="363.6" cy="85.4" r="2.85" fill="#008bfb"/>
<circle cx="379.0" cy="87.3" r="2.85" fill="#008bfb"/>
<circle cx="367.2" cy="89.2" r="2.85" fill="#008bfb"/>
<circle cx="442.4" cy="89.2" r="2.85" fill="#008bfb"/>
<circle cx="469.2" cy="87.3" r="2.85" fill="#008bfb"/>
<circle cx="359.4" cy="91.1" r="2.85" fill="#008bfb"/>
<circle cx="345.5" cy="89.2" r="2.85" fill="#ff0051"/>
<circle cx="360.7" cy="81.6" r="2.85" fill="#008bfb"/>
<circle cx="364.2" cy="75.9" r="2.85" fill="#008bfb"/>
<circle cx="476.6" cy="94.9" r="2.85" fill="#b00fa5"/>
<circle cx="428.2" cy="89.2" r="2.85" fill="#008bfb"/>
<circle cx="356.8" cy="100.6" r="2.85" fill="#008bfb"/>
<circle cx="424.9" cy="91.1" r="2.85" fill="#8542c5"/>
<circle cx="372.9" cy="93.0" r="2.85" fill="#008bfb"/>
<circle cx="407.4" cy="89.2" r="2.85" fill="#008bfb"/>
<circle cx="371.5" cy="91.1" r="2.85" fill="#008bfb"/>
<circle cx="358.2" cy="77.8" r="2.85" fill="#ff0051"/>
<circle cx="428.4" cy="91.1" r="2.85" fill="#008bfb"/>
<circle cx="377.2" cy="85.4" r="2.85" fill="#008bfb"/>
<circle cx="449.2" cy="89.2" r="2.85" fill="#008bfb"/>
<circle cx="470.3" cy="93.0" r="2.85" fill="#008bfb"/>
<circle cx="393.0" cy="89.2" r="2.85" fill="#008bfb"/>
<circle cx="465.8" cy="91.1" r="2.85" fill="#008bfb"/>
<circle cx="357.3" cy="91.1" r="2.85" fill="#008bfb"/>
<circle cx="399.9" cy="91.1" r="2.85" fill="#008bfb"/>
<circle cx="370.2" cy="83.5" r="2.85" fill="#008bfb"/>
<circle cx="461.2" cy="89.2" r="2.85" fill="#dd0088"/>
<circle cx="494.1" cy="91.1" r="2.85" fill="#008bfb"/>
<circle cx="360.3" cy="83.5" r="2.85" fill="#ff0051"/>
<circle cx="420.5" cy="87.3" r="2.85" fill="#008bfb"/>
<circle cx="503.9" cy="91.1" r="2.85" fill="#008bfb"/>
<circle cx="400.9" cy="91.1" r="2.85" fill="#8244c7"/>
<circle cx="473.7" cy="93.0" r="2.85" fill="#008bfb"/>
<circle cx="507.7" cy="87.3" r="2.85" fill="#008bfb"/>
<circle cx="511.6" cy="87.3" r="2.85" fill="#ff0058"/>
<circle cx="432.3" cy="89.2" r="2.85" fill="#ff0058"/>
<circle cx="360.9" cy="85.4" r="2.85" fill="#008bfb"/>
<circle cx="362.5" cy="74.0" r="2.85" fill="#008bfb"/>
<circle cx="501.4" cy="93.0" r="2.85" fill="#008bfb"/>
<circle cx="394.5" cy="91.1" r="2.85" fill="#008bfb"/>
<circle cx="361.8" cy="100.6" r="2.85" fill="#008bfb"/>
<circle cx="465.1" cy="93.0" r="2.85" fill="#008bfb"/>
<circle cx="364.9" cy="79.7" r="2.85" fill="#008bfb"/>
<circle cx="450.9" cy="87.3" r="2.85" fill="#008bfb"/>
<circle cx="395.5" cy="89.2" r="2.85" fill="#008bfb"/>
<circle cx="450.7" cy="91.1" r="2.85" fill="#ff0051"/>
<circle cx="353.7" cy="98.7" r="2.85" fill="#008bfb"/>
<circle cx="359.6" cy="102.5" r="2.85" fill="#008bfb"/>
<circle cx="366.5" cy="96.8" r="2.85" fill="#a01fab"/>
<circle cx="463.3" cy="87.3" r="2.85" fill="#bf009d"/>
<circle cx="437.9" cy="89.2" r="2.85" fill="#008bfb"/>
<circle cx="467.8" cy="91.1" r="2.85" fill="#008bfb"/>
<circle cx="449.7" cy="91.1" r="2.85" fill="#ff0058"/>
<circle cx="391.4" cy="89.2" r="2.85" fill="#008bfb"/>
<circle cx="478.9" cy="91.1" r="2.85" fill="#008bfb"/>
<circle cx="369.5" cy="94.9" r="2.85" fill="#008bfb"/>
<circle cx="508.7" cy="89.2" r="2.85" fill="#f30070"/>
<circle cx="514.7" cy="89.2" r="2.85" fill="#008bfb"/>
<circle cx="502.1" cy="85.4" r="2.85" fill="#008bfb"/>
<circle cx="355.0" cy="83.5" r="2.85" fill="#008bfb"/>
<circle cx="381.8" cy="89.2" r="2.85" fill="#008bfb"/>
<circle cx="472.7" cy="91.1" r="2.85" fill="#008bfb"/>
<circle cx="502.8" cy="89.2" r="2.85" fill="#008bfb"/>
<circle cx="452.2" cy="89.2" r="2.85" fill="#008bfb"/>
<circle cx="406.7" cy="87.3" r="2.85" fill="#008bfb"/>
<circle cx="352.6" cy="96.8" r="2.85" fill="#ff0051"/>
<circle cx="392.8" cy="87.3" r="2.85" fill="#008bfb"/>
<circle cx="489.6" cy="89.2" r="2.85" fill="#008bfb"/>
<circle cx="367.2" cy="87.3" r="2.85" fill="#008bfb"/>
<circle cx="401.1" cy="89.2" r="2.85" fill="#008bfb"/>
<circle cx="454.6" cy="93.0" r="2.85" fill="#008bfb"/>
<circle cx="469.8" cy="89.2" r="2.85" fill="#008bfb"/>
<circle cx="389.3" cy="89.2" r="2.85" fill="#008bfb"/>
<circle cx="448.1" cy="87.3" r="2.85" fill="#008bfb"/>
<circle cx="434.7" cy="89.2" r="2.85" fill="#008bfb"/>
<circle cx="434.7" cy="93.0" r="2.85" fill="#008bfb"/>
<circle cx="343.0" cy="89.2" r="2.85" fill="#008bfb"/>
<circle cx="463.9" cy="93.0" r="2.85" fill="#008bfb"/>
<circle cx="429.6" cy="91.1" r="2.85" fill="#008bfb"/>
<circle cx="379.3" cy="91.1" r="2.85" fill="#008bfb"/>
<circle cx="457.9" cy="89.2" r="2.85" fill="#008bfb"/>
<circle cx="425.1" cy="87.3" r="2.85" fill="#008bfb"/>
<circle cx="481.9" cy="85.4" r="2.85" fill="#008bfb"/>
<circle cx="502.6" cy="85.4" r="2.85" fill="#008bfb"/>
<circle cx="459.7" cy="89.2" r="2.85" fill="#008bfb"/>
<circle cx="411.2" cy="87.3" r="2.85" fill="#008bfb"/>
<circle cx="352.6" cy="83.5" r="2.85" fill="#008bfb"/>
<circle cx="352.3" cy="87.3" r="2.85" fill="#008bfb"/>
<circle cx="474.9" cy="89.2" r="2.85" fill="#008bfb"/>
<circle cx="355.9" cy="98.7" r="2.85" fill="#008bfb"/>
<circle cx="359.1" cy="77.8" r="2.85" fill="#008bfb"/>
<circle cx="484.8" cy="89.2" r="2.85" fill="#008bfb"/>
<circle cx="362.8" cy="98.7" r="2.85" fill="#008bfb"/>
<circle cx="368.3" cy="93.0" r="2.85" fill="#008bfb"/>
<circle cx="402.2" cy="87.3" r="2.85" fill="#008bfb"/>
<circle cx="474.3" cy="89.2" r="2.85" fill="#008bfb"/>
<circle cx="370.1" cy="87.3" r="2.85" fill="#008bfb"/>
<circle cx="442.6" cy="93.0" r="2.85" fill="#ff0058"/>
<circle cx="474.4" cy="87.3" r="2.85" fill="#008bfb"/>
<circle cx="368.4" cy="91.1" r="2.85" fill="#008bfb"/>
<circle cx="344.6" cy="87.3" r="2.85" fill="#008bfb"/>
<circle cx="479.9" cy="85.4" r="2.85" fill="#fb0063"/>
<circle cx="361.3" cy="75.9" r="2.85" fill="#008bfb"/>
<circle cx="411.9" cy="91.1" r="2.85" fill="#008bfb"/>
<circle cx="402.7" cy="89.2" r="2.85" fill="#008bfb"/>
<circle cx="405.2" cy="87.3" r="2.85" fill="#008bfb"/>
<circle cx="361.2" cy="83.5" r="2.85" fill="#8542c5"/>
<circle cx="403.9" cy="87.3" r="2.85" fill="#008bfb"/>
<circle cx="416.3" cy="89.2" r="2.85" fill="#008bfb"/>
<circle cx="454.5" cy="87.3" r="2.85" fill="#008bfb"/>
<circle cx="379.4" cy="93.0" r="2.85" fill="#008bfb"/>
<circle cx="417.7" cy="87.3" r="2.85" fill="#008bfb"/>
<circle cx="410.4" cy="87.3" r="2.85" fill="#008bfb"/>
<circle cx="509.0" cy="87.3" r="2.85" fill="#008bfb"/>
<circle cx="497.0" cy="93.0" r="2.85" fill="#008bfb"/>
<circle cx="413.2" cy="87.3" r="2.85" fill="#008bfb"/>
<circle cx="491.6" cy="93.0" r="2.85" fill="#008bfb"/>
<circle cx="383.7" cy="91.1" r="2.85" fill="#008bfb"/>
<circle cx="458.2" cy="87.3" r="2.85" fill="#008bfb"/>
<circle cx="373.9" cy="85.4" r="2.85" fill="#008bfb"/>
<circle cx="456.2" cy="91.1" r="2.85" fill="#008bfb"/>
<circle cx="429.7" cy="89.2" r="2.85" fill="#008bfb"/>
<circle cx="481.7" cy="93.0" r="2.85" fill="#008bfb"/>
<circle cx="351.9" cy="94.9" r="2.85" fill="#008bfb"/>
<circle cx="490.8" cy="91.1" r="2.85" fill="#9430b6"/>
<circle cx="381.5" cy="93.0" r="2.85" fill="#008bfb"/>
<circle cx="346.5" cy="93.0" r="2.85" fill="#008bfb"/>
<circle cx="372.3" cy="83.5" r="2.85" fill="#008bfb"/>
<circle cx="395.9" cy="87.3" r="2.85" fill="#008bfb"/>
<circle cx="459.1" cy="87.3" r="2.85" fill="#008bfb"/>
<circle cx="411.6" cy="89.2" r="2.85" fill="#008bfb"/>
<circle cx="353.5" cy="81.6" r="2.85" fill="#008bfb"/>
<circle cx="446.0" cy="93.0" r="2.85" fill="#008bfb"/>
<circle cx="362.6" cy="96.8" r="2.85" fill="#f30070"/>
<circle cx="351.3" cy="96.8" r="2.85" fill="#008bfb"/>
<circle cx="356.0" cy="81.6" r="2.85" fill="#008bfb"/>
<circle cx="371.2" cy="85.4" r="2.85" fill="#008bfb"/>
<circle cx="369.4" cy="96.8" r="2.85" fill="#008bfb"/>
<circle cx="347.0" cy="89.2" r="2.85" fill="#008bfb"/>
<circle cx="363.8" cy="77.8" r="2.85" fill="#008bfb"/>
<circle cx="494.9" cy="89.2" r="2.85" fill="#008bfb"/>
<circle cx="372.2" cy="89.2" r="2.85" fill="#008bfb"/>
<circle cx="356.0" cy="85.4" r="2.85" fill="#008bfb"/>
<circle cx="501.2" cy="87.3" r="2.85" fill="#008bfb"/>
<circle cx="365.8" cy="98.7" r="2.85" fill="#008bfb"/>
<circle cx="350.7" cy="86.5" r="2.85" fill="#ff0051"/>
<circle cx="357.3" cy="95.3" r="2.85" fill="#e9007c"/>
<circle cx="363.9" cy="81.6" r="2.85" fill="#e9007c"/>
<circle cx="363.9" cy="91.5" r="2.85" fill="#ff0051"/>
<circle cx="370.5" cy="86.5" r="2.85" fill="#ff0051"/>
<circle cx="370.5" cy="90.7" r="2.85" fill="#e9007c"/>
<circle cx="383.8" cy="89.5" r="2.85" fill="#ff0051"/>
<circle cx="354.0" cy="82.4" r="2.85" fill="#8047c9"/>
<circle cx="366.4" cy="99.0" r="2.85" fill="#8047c9"/>
<circle cx="376.3" cy="86.5" r="2.85" fill="#8047c9"/>
<circle cx="401.0" cy="90.7" r="2.85" fill="#8047c9"/>
<circle cx="398.7" cy="86.5" r="2.85" fill="#e9007c"/>
<circle cx="429.1" cy="89.0" r="2.85" fill="#ff0051"/>
<circle cx="466.7" cy="85.7" r="2.85" fill="#ff0051"/>
<circle cx="478.8" cy="84.9" r="2.85" fill="#ff0051"/>
<circle cx="461.4" cy="91.5" r="2.85" fill="#ff0051"/>
<circle cx="473.0" cy="89.8" r="2.85" fill="#e9007c"/>
<circle cx="501.1" cy="90.2" r="2.85" fill="#ff0051"/>
<circle cx="496.2" cy="93.5" r="2.85" fill="#ff0051"/>
<circle cx="420.2" cy="139.6" r="2.85" fill="#e9007c"/>
<circle cx="420.2" cy="136.9" r="2.85" fill="#008bfb"/>
<circle cx="420.4" cy="135.4" r="2.85" fill="#008bfb"/>
<circle cx="420.1" cy="133.9" r="2.85" fill="#008bfb"/>
<circle cx="420.3" cy="132.4" r="2.85" fill="#008bfb"/>
<circle cx="420.0" cy="130.9" r="2.85" fill="#008bfb"/>
<circle cx="420.3" cy="129.4" r="2.85" fill="#008bfb"/>
<circle cx="420.5" cy="127.9" r="2.85" fill="#008bfb"/>
<circle cx="420.3" cy="126.4" r="2.85" fill="#008bfb"/>
<circle cx="420.4" cy="124.9" r="2.85" fill="#008bfb"/>
<circle cx="420.0" cy="123.4" r="2.85" fill="#008bfb"/>
<circle cx="419.6" cy="140.0" r="2.85" fill="#008bfb"/>
<circle cx="421.6" cy="138.2" r="2.85" fill="#008bfb"/>
<circle cx="422.7" cy="137.6" r="2.85" fill="#008bfb"/>
<circle cx="422.4" cy="136.1" r="2.85" fill="#008bfb"/>
<circle cx="422.8" cy="134.6" r="2.85" fill="#008bfb"/>
<circle cx="422.8" cy="133.1" r="2.85" fill="#008bfb"/>
<circle cx="422.8" cy="131.6" r="2.85" fill="#008bfb"/>
<circle cx="422.6" cy="130.1" r="2.85" fill="#008bfb"/>
<circle cx="422.5" cy="128.6" r="2.85" fill="#008bfb"/>
<circle cx="422.5" cy="127.1" r="2.85" fill="#008bfb"/>
<circle cx="422.7" cy="125.6" r="2.85" fill="#008bfb"/>
<circle cx="424.6" cy="136.9" r="2.85" fill="#008bfb"/>
<circle cx="424.8" cy="135.4" r="2.85" fill="#008bfb"/>
<circle cx="424.4" cy="133.9" r="2.85" fill="#008bfb"/>
<circle cx="424.6" cy="132.4" r="2.85" fill="#008bfb"/>
<circle cx="424.7" cy="130.9" r="2.85" fill="#008bfb"/>
<circle cx="424.6" cy="129.4" r="2.85" fill="#008bfb"/>
<circle cx="424.6" cy="127.9" r="2.85" fill="#008bfb"/>
<circle cx="424.4" cy="126.4" r="2.85" fill="#008bfb"/>
<circle cx="426.5" cy="136.3" r="2.85" fill="#008bfb"/>
<circle cx="426.5" cy="134.8" r="2.85" fill="#008bfb"/>
<circle cx="426.8" cy="133.3" r="2.85" fill="#008bfb"/>
<circle cx="426.7" cy="131.8" r="2.85" fill="#008bfb"/>
<circle cx="426.5" cy="130.3" r="2.85" fill="#008bfb"/>
<circle cx="426.8" cy="128.8" r="2.85" fill="#008bfb"/>
<circle cx="426.4" cy="127.3" r="2.85" fill="#008bfb"/>
<circle cx="428.6" cy="136.0" r="2.85" fill="#008bfb"/>
<circle cx="428.8" cy="134.5" r="2.85" fill="#008bfb"/>
<circle cx="428.5" cy="133.0" r="2.85" fill="#008bfb"/>
<circle cx="428.8" cy="131.5" r="2.85" fill="#008bfb"/>
<circle cx="428.7" cy="130.0" r="2.85" fill="#008bfb"/>
<circle cx="428.4" cy="128.5" r="2.85" fill="#008bfb"/>
<circle cx="430.3" cy="136.0" r="2.85" fill="#008bfb"/>
<circle cx="430.4" cy="134.5" r="2.85" fill="#008bfb"/>
<circle cx="430.3" cy="133.0" r="2.85" fill="#008bfb"/>
<circle cx="430.5" cy="131.5" r="2.85" fill="#008bfb"/>
<circle cx="430.3" cy="130.0" r="2.85" fill="#008bfb"/>
<circle cx="430.5" cy="128.5" r="2.85" fill="#008bfb"/>
<circle cx="432.8" cy="117.2" r="2.85" fill="#008bfb"/>
<circle cx="432.8" cy="118.6" r="2.85" fill="#8047c9"/>
<circle cx="432.8" cy="119.6" r="2.85" fill="#008bfb"/>
<circle cx="432.8" cy="122.2" r="2.85" fill="#ff0051"/>
<circle cx="432.8" cy="124.4" r="2.85" fill="#008bfb"/>
<circle cx="432.8" cy="141.7" r="2.85" fill="#ff0051"/>
<circle cx="432.7" cy="145.8" r="2.85" fill="#008bfb"/>
<circle cx="432.5" cy="144.3" r="2.85" fill="#008bfb"/>
<circle cx="432.8" cy="139.8" r="2.85" fill="#008bfb"/>
<circle cx="433.0" cy="138.3" r="2.85" fill="#008bfb"/>
<circle cx="432.9" cy="136.8" r="2.85" fill="#008bfb"/>
<circle cx="432.8" cy="135.3" r="2.85" fill="#008bfb"/>
<circle cx="432.5" cy="133.8" r="2.85" fill="#008bfb"/>
<circle cx="432.8" cy="132.3" r="2.85" fill="#008bfb"/>
<circle cx="432.5" cy="130.8" r="2.85" fill="#008bfb"/>
<circle cx="432.9" cy="129.3" r="2.85" fill="#008bfb"/>
<circle cx="432.5" cy="127.8" r="2.85" fill="#008bfb"/>
<circle cx="432.9" cy="126.3" r="2.85" fill="#008bfb"/>
<circle cx="432.7" cy="124.8" r="2.85" fill="#008bfb"/>
<circle cx="432.8" cy="140.0" r="2.85" fill="#008bfb"/>
<circle cx="432.8" cy="143.4" r="2.85" fill="#008bfb"/>
<circle cx="423.9" cy="131.3" r="2.85" fill="#ff0051"/>
<circle cx="428.8" cy="163.6" r="2.85" fill="#ff0051"/>
<circle cx="428.2" cy="186.6" r="2.85" fill="#ff0051"/>
<circle cx="416.3" cy="177.8" r="2.85" fill="#ff0051"/>
<circle cx="427.5" cy="176.5" r="2.85" fill="#8047c9"/>
<circle cx="430.5" cy="166.5" r="2.85" fill="#8047c9"/>
<circle cx="422.9" cy="165.5" r="2.85" fill="#008bfb"/>
<circle cx="427.5" cy="163.8" r="2.85" fill="#008bfb"/>
<circle cx="427.2" cy="179.1" r="2.85" fill="#008bfb"/>
<circle cx="423.6" cy="174.0" r="2.85" fill="#008bfb"/>
<circle cx="431.4" cy="167.2" r="2.85" fill="#008bfb"/>
<circle cx="425.6" cy="182.5" r="2.85" fill="#008bfb"/>
<circle cx="432.0" cy="174.0" r="2.85" fill="#008bfb"/>
<circle cx="436.4" cy="175.7" r="2.85" fill="#008bfb"/>
<circle cx="427.8" cy="167.2" r="2.85" fill="#008bfb"/>
<circle cx="435.2" cy="168.9" r="2.85" fill="#008bfb"/>
<circle cx="423.1" cy="172.3" r="2.85" fill="#008bfb"/>
<circle cx="431.8" cy="168.9" r="2.85" fill="#008bfb"/>
<circle cx="430.3" cy="174.0" r="2.85" fill="#008bfb"/>
<circle cx="422.9" cy="175.7" r="2.85" fill="#008bfb"/>
<circle cx="419.7" cy="174.0" r="2.85" fill="#008bfb"/>
<circle cx="416.2" cy="172.3" r="2.85" fill="#008bfb"/>
<circle cx="435.1" cy="177.4" r="2.85" fill="#008bfb"/>
<circle cx="426.8" cy="180.8" r="2.85" fill="#008bfb"/>
<circle cx="426.2" cy="163.8" r="2.85" fill="#008bfb"/>
<circle cx="432.4" cy="182.5" r="2.85" fill="#008bfb"/>
<circle cx="425.1" cy="179.1" r="2.85" fill="#008bfb"/>
<circle cx="418.5" cy="167.2" r="2.85" fill="#008bfb"/>
<circle cx="417.1" cy="180.8" r="2.85" fill="#008bfb"/>
<circle cx="421.5" cy="170.6" r="2.85" fill="#008bfb"/>
<circle cx="421.1" cy="182.5" r="2.85" fill="#008bfb"/>
<circle cx="435.4" cy="170.6" r="2.85" fill="#008bfb"/>
<circle cx="428.8" cy="179.1" r="2.85" fill="#008bfb"/>
<circle cx="419.6" cy="167.2" r="2.85" fill="#008bfb"/>
<circle cx="427.0" cy="182.5" r="2.85" fill="#008bfb"/>
<circle cx="425.3" cy="184.2" r="2.85" fill="#008bfb"/>
<circle cx="424.2" cy="162.1" r="2.85" fill="#008bfb"/>
<circle cx="431.7" cy="180.8" r="2.85" fill="#008bfb"/>
<circle cx="426.6" cy="175.7" r="2.85" fill="#008bfb"/>
<circle cx="420.9" cy="168.9" r="2.85" fill="#008bfb"/>
<circle cx="434.2" cy="177.4" r="2.85" fill="#008bfb"/>
<circle cx="423.5" cy="175.7" r="2.85" fill="#008bfb"/>
<circle cx="425.2" cy="185.9" r="2.85" fill="#008bfb"/>
<circle cx="418.6" cy="177.4" r="2.85" fill="#008bfb"/>
<circle cx="424.7" cy="168.9" r="2.85" fill="#008bfb"/>
<circle cx="433.0" cy="168.9" r="2.85" fill="#008bfb"/>
<circle cx="431.8" cy="179.1" r="2.85" fill="#008bfb"/>
<circle cx="425.6" cy="174.0" r="2.85" fill="#008bfb"/>
<circle cx="423.0" cy="179.1" r="2.85" fill="#008bfb"/>
<circle cx="429.2" cy="174.0" r="2.85" fill="#008bfb"/>
<circle cx="424.7" cy="170.6" r="2.85" fill="#008bfb"/>
<circle cx="420.1" cy="179.1" r="2.85" fill="#008bfb"/>
<circle cx="433.1" cy="165.5" r="2.85" fill="#008bfb"/>
<circle cx="419.6" cy="172.3" r="2.85" fill="#008bfb"/>
<circle cx="425.8" cy="184.2" r="2.85" fill="#008bfb"/>
<circle cx="423.7" cy="185.9" r="2.85" fill="#008bfb"/>
<circle cx="427.8" cy="165.5" r="2.85" fill="#008bfb"/>
<circle cx="418.1" cy="168.9" r="2.85" fill="#008bfb"/>
<circle cx="427.6" cy="177.4" r="2.85" fill="#008bfb"/>
<circle cx="431.8" cy="174.0" r="2.85" fill="#008bfb"/>
<circle cx="428.5" cy="167.2" r="2.85" fill="#008bfb"/>
<circle cx="425.6" cy="163.8" r="2.85" fill="#008bfb"/>
<circle cx="429.8" cy="177.4" r="2.85" fill="#008bfb"/>
<circle cx="429.8" cy="163.8" r="2.85" fill="#008bfb"/>
<circle cx="428.0" cy="174.0" r="2.85" fill="#008bfb"/>
<circle cx="420.7" cy="175.7" r="2.85" fill="#008bfb"/>
<circle cx="428.6" cy="162.1" r="2.85" fill="#008bfb"/>
<circle cx="423.8" cy="163.8" r="2.85" fill="#008bfb"/>
<circle cx="430.6" cy="168.9" r="2.85" fill="#008bfb"/>
<circle cx="429.9" cy="185.9" r="2.85" fill="#008bfb"/>
<circle cx="418.8" cy="179.1" r="2.85" fill="#008bfb"/>
<circle cx="431.5" cy="182.5" r="2.85" fill="#008bfb"/>
<circle cx="431.1" cy="163.8" r="2.85" fill="#008bfb"/>
<circle cx="422.2" cy="170.6" r="2.85" fill="#008bfb"/>
<circle cx="414.6" cy="175.7" r="2.85" fill="#008bfb"/>
<circle cx="416.3" cy="168.9" r="2.85" fill="#008bfb"/>
<circle cx="432.2" cy="177.4" r="2.85" fill="#008bfb"/>
<circle cx="423.0" cy="167.2" r="2.85" fill="#008bfb"/>
<circle cx="422.1" cy="163.8" r="2.85" fill="#008bfb"/>
<circle cx="418.3" cy="170.6" r="2.85" fill="#008bfb"/>
<circle cx="431.2" cy="172.3" r="2.85" fill="#008bfb"/>
<circle cx="415.9" cy="175.7" r="2.85" fill="#008bfb"/>
<circle cx="416.8" cy="177.4" r="2.85" fill="#008bfb"/>
<circle cx="426.1" cy="187.6" r="2.85" fill="#008bfb"/>
<circle cx="421.6" cy="167.2" r="2.85" fill="#008bfb"/>
<circle cx="423.5" cy="184.2" r="2.85" fill="#008bfb"/>
<circle cx="418.2" cy="180.8" r="2.85" fill="#008bfb"/>
<circle cx="413.7" cy="172.3" r="2.85" fill="#008bfb"/>
<circle cx="426.5" cy="165.5" r="2.85" fill="#008bfb"/>
<circle cx="428.7" cy="168.9" r="2.85" fill="#008bfb"/>
<circle cx="422.8" cy="174.0" r="2.85" fill="#008bfb"/>
<circle cx="437.3" cy="174.0" r="2.85" fill="#008bfb"/>
<circle cx="423.3" cy="165.5" r="2.85" fill="#008bfb"/>
<circle cx="424.2" cy="179.1" r="2.85" fill="#008bfb"/>
<circle cx="421.5" cy="163.8" r="2.85" fill="#008bfb"/>
<circle cx="431.4" cy="175.7" r="2.85" fill="#008bfb"/>
<circle cx="416.4" cy="170.6" r="2.85" fill="#008bfb"/>
<circle cx="426.5" cy="162.1" r="2.85" fill="#008bfb"/>
<circle cx="423.8" cy="168.9" r="2.85" fill="#008bfb"/>
<circle cx="430.7" cy="179.1" r="2.85" fill="#008bfb"/>
<circle cx="436.6" cy="172.3" r="2.85" fill="#008bfb"/>
<circle cx="422.2" cy="168.9" r="2.85" fill="#008bfb"/>
<circle cx="429.8" cy="170.6" r="2.85" fill="#008bfb"/>
<circle cx="426.7" cy="170.6" r="2.85" fill="#008bfb"/>
<circle cx="431.8" cy="165.5" r="2.85" fill="#008bfb"/>
<circle cx="433.3" cy="167.2" r="2.85" fill="#008bfb"/>
<circle cx="422.7" cy="184.2" r="2.85" fill="#008bfb"/>
<circle cx="423.5" cy="170.6" r="2.85" fill="#008bfb"/>
<circle cx="426.6" cy="185.9" r="2.85" fill="#008bfb"/>
<circle cx="432.7" cy="172.3" r="2.85" fill="#008bfb"/>
<circle cx="416.8" cy="179.1" r="2.85" fill="#008bfb"/>
<circle cx="413.4" cy="174.0" r="2.85" fill="#008bfb"/>
<circle cx="425.7" cy="177.4" r="2.85" fill="#008bfb"/>
<circle cx="417.8" cy="172.3" r="2.85" fill="#008bfb"/>
<circle cx="435.1" cy="174.0" r="2.85" fill="#008bfb"/>
<circle cx="435.5" cy="172.3" r="2.85" fill="#008bfb"/>
<circle cx="433.2" cy="180.8" r="2.85" fill="#008bfb"/>
<circle cx="417.4" cy="177.4" r="2.85" fill="#008bfb"/>
<circle cx="433.0" cy="175.7" r="2.85" fill="#008bfb"/>
<circle cx="425.5" cy="175.7" r="2.85" fill="#008bfb"/>
<circle cx="428.4" cy="177.4" r="2.85" fill="#008bfb"/>
<circle cx="427.4" cy="184.2" r="2.85" fill="#008bfb"/>
<circle cx="421.4" cy="184.2" r="2.85" fill="#008bfb"/>
<circle cx="422.1" cy="180.8" r="2.85" fill="#008bfb"/>
<circle cx="426.9" cy="168.9" r="2.85" fill="#008bfb"/>
<circle cx="419.6" cy="170.6" r="2.85" fill="#008bfb"/>
<circle cx="427.2" cy="180.8" r="2.85" fill="#008bfb"/>
<circle cx="419.2" cy="168.9" r="2.85" fill="#008bfb"/>
<circle cx="428.6" cy="185.9" r="2.85" fill="#008bfb"/>
<circle cx="429.2" cy="175.7" r="2.85" fill="#008bfb"/>
<circle cx="414.4" cy="175.7" r="2.85" fill="#008bfb"/>
<circle cx="436.2" cy="174.0" r="2.85" fill="#008bfb"/>
<circle cx="428.7" cy="165.5" r="2.85" fill="#008bfb"/>
<circle cx="430.2" cy="167.2" r="2.85" fill="#008bfb"/>
<circle cx="421.7" cy="180.8" r="2.85" fill="#008bfb"/>
<circle cx="426.9" cy="160.4" r="2.85" fill="#008bfb"/>
<circle cx="428.2" cy="185.9" r="2.85" fill="#008bfb"/>
<circle cx="434.5" cy="179.1" r="2.85" fill="#008bfb"/>
<circle cx="434.2" cy="175.7" r="2.85" fill="#008bfb"/>
<circle cx="420.0" cy="165.5" r="2.85" fill="#008bfb"/>
<circle cx="427.8" cy="170.6" r="2.85" fill="#008bfb"/>
<circle cx="424.2" cy="182.5" r="2.85" fill="#008bfb"/>
<circle cx="425.1" cy="165.5" r="2.85" fill="#008bfb"/>
<circle cx="417.3" cy="179.1" r="2.85" fill="#008bfb"/>
<circle cx="427.4" cy="175.7" r="2.85" fill="#008bfb"/>
<circle cx="428.2" cy="168.9" r="2.85" fill="#008bfb"/>
<circle cx="424.9" cy="177.4" r="2.85" fill="#008bfb"/>
<circle cx="420.4" cy="177.4" r="2.85" fill="#008bfb"/>
<circle cx="418.3" cy="174.0" r="2.85" fill="#008bfb"/>
<circle cx="434.0" cy="170.6" r="2.85" fill="#008bfb"/>
<circle cx="430.1" cy="172.3" r="2.85" fill="#008bfb"/>
<circle cx="433.8" cy="174.0" r="2.85" fill="#008bfb"/>
<circle cx="415.1" cy="177.4" r="2.85" fill="#008bfb"/>
<circle cx="426.6" cy="174.0" r="2.85" fill="#008bfb"/>
<circle cx="430.5" cy="175.7" r="2.85" fill="#008bfb"/>
<circle cx="421.7" cy="165.5" r="2.85" fill="#008bfb"/>
<circle cx="416.2" cy="174.0" r="2.85" fill="#008bfb"/>
<circle cx="418.9" cy="172.3" r="2.85" fill="#008bfb"/>
<circle cx="423.8" cy="177.4" r="2.85" fill="#008bfb"/>
<circle cx="433.6" cy="168.9" r="2.85" fill="#008bfb"/>
<circle cx="424.1" cy="180.8" r="2.85" fill="#008bfb"/>
<circle cx="429.3" cy="184.2" r="2.85" fill="#008bfb"/>
<circle cx="420.6" cy="180.8" r="2.85" fill="#008bfb"/>
<circle cx="435.4" cy="175.7" r="2.85" fill="#008bfb"/>
<circle cx="429.0" cy="180.8" r="2.85" fill="#008bfb"/>
<circle cx="431.3" cy="184.2" r="2.85" fill="#008bfb"/>
<circle cx="429.3" cy="172.3" r="2.85" fill="#008bfb"/>
<circle cx="415.5" cy="170.6" r="2.85" fill="#008bfb"/>
<circle cx="426.4" cy="172.3" r="2.85" fill="#008bfb"/>
<circle cx="421.2" cy="179.1" r="2.85" fill="#008bfb"/>
<circle cx="424.5" cy="172.3" r="2.85" fill="#008bfb"/>
<circle cx="417.9" cy="170.6" r="2.85" fill="#008bfb"/>
<circle cx="432.8" cy="170.6" r="2.85" fill="#008bfb"/>
<circle cx="430.3" cy="180.8" r="2.85" fill="#008bfb"/>
<circle cx="414.6" cy="174.0" r="2.85" fill="#008bfb"/>
<circle cx="424.3" cy="172.3" r="2.85" fill="#008bfb"/>
<circle cx="428.5" cy="182.5" r="2.85" fill="#008bfb"/>
<circle cx="421.7" cy="177.4" r="2.85" fill="#008bfb"/>
<circle cx="423.0" cy="182.5" r="2.85" fill="#008bfb"/>
<circle cx="433.5" cy="179.1" r="2.85" fill="#008bfb"/>
<circle cx="421.6" cy="175.7" r="2.85" fill="#008bfb"/>
<circle cx="426.4" cy="182.5" r="2.85" fill="#008bfb"/>
<circle cx="415.1" cy="172.3" r="2.85" fill="#008bfb"/>
<circle cx="428.4" cy="163.8" r="2.85" fill="#008bfb"/>
<circle cx="417.3" cy="175.7" r="2.85" fill="#008bfb"/>
<circle cx="421.9" cy="174.0" r="2.85" fill="#008bfb"/>
<circle cx="423.7" cy="167.2" r="2.85" fill="#008bfb"/>
<circle cx="420.2" cy="182.5" r="2.85" fill="#008bfb"/>
<circle cx="426.3" cy="167.2" r="2.85" fill="#008bfb"/>
<circle cx="419.1" cy="175.7" r="2.85" fill="#008bfb"/>
<circle cx="433.5" cy="172.3" r="2.85" fill="#008bfb"/>
<circle cx="429.9" cy="182.5" r="2.85" fill="#008bfb"/>
<circle cx="425.1" cy="167.2" r="2.85" fill="#008bfb"/>
<circle cx="420.9" cy="172.3" r="2.85" fill="#008bfb"/>
<circle cx="433.6" cy="180.8" r="2.85" fill="#008bfb"/>
<circle cx="430.4" cy="184.2" r="2.85" fill="#008bfb"/>
<circle cx="432.1" cy="179.1" r="2.85" fill="#008bfb"/>
<circle cx="433.0" cy="167.2" r="2.85" fill="#008bfb"/>
<circle cx="427.3" cy="162.1" r="2.85" fill="#008bfb"/>
<circle cx="425.9" cy="179.1" r="2.85" fill="#008bfb"/>
<circle cx="420.4" cy="168.9" r="2.85" fill="#008bfb"/>
<circle cx="429.5" cy="165.5" r="2.85" fill="#008bfb"/>
<circle cx="427.2" cy="172.3" r="2.85" fill="#008bfb"/>
<circle cx="431.1" cy="170.6" r="2.85" fill="#008bfb"/>
<circle cx="417.9" cy="174.0" r="2.85" fill="#008bfb"/>
<circle cx="422.8" cy="177.4" r="2.85" fill="#008bfb"/>
<circle cx="431.4" cy="177.4" r="2.85" fill="#008bfb"/>
<circle cx="425.6" cy="162.1" r="2.85" fill="#008bfb"/>
<circle cx="428.5" cy="170.6" r="2.85" fill="#008bfb"/>
<circle cx="425.1" cy="180.8" r="2.85" fill="#008bfb"/>
<circle cx="418.9" cy="178.5" r="2.85" fill="#e9007c"/>
<circle cx="413.2" cy="174.1" r="2.85" fill="#e9007c"/>
<circle cx="420.6" cy="173.2" r="2.85" fill="#e9007c"/>
<circle cx="424.9" cy="169.2" r="2.85" fill="#e9007c"/>
<circle cx="436.8" cy="174.3" r="2.85" fill="#ff0051"/>
<circle cx="427.1" cy="231.3" r="2.85" fill="#e9007c"/>
<circle cx="427.1" cy="229.9" r="2.85" fill="#008bfb"/>
<circle cx="427.1" cy="228.5" r="2.85" fill="#008bfb"/>
<circle cx="427.1" cy="227.1" r="2.85" fill="#008bfb"/>
<circle cx="427.1" cy="225.7" r="2.85" fill="#008bfb"/>
<circle cx="427.1" cy="224.3" r="2.85" fill="#008bfb"/>
<circle cx="427.1" cy="222.9" r="2.85" fill="#008bfb"/>
<circle cx="427.1" cy="221.5" r="2.85" fill="#008bfb"/>
<circle cx="427.1" cy="220.1" r="2.85" fill="#008bfb"/>
<circle cx="427.1" cy="219.2" r="2.85" fill="#e9007c"/>
<circle cx="427.1" cy="217.3" r="2.85" fill="#008bfb"/>
<circle cx="427.1" cy="215.9" r="2.85" fill="#008bfb"/>
<circle cx="427.1" cy="214.5" r="2.85" fill="#008bfb"/>
<circle cx="427.1" cy="213.1" r="2.85" fill="#008bfb"/>
<circle cx="427.1" cy="211.7" r="2.85" fill="#008bfb"/>
<circle cx="427.1" cy="210.3" r="2.85" fill="#008bfb"/>
<circle cx="427.1" cy="208.9" r="2.85" fill="#008bfb"/>
<circle cx="427.1" cy="207.5" r="2.85" fill="#008bfb"/>
<circle cx="427.1" cy="206.1" r="2.85" fill="#008bfb"/>
<circle cx="427.1" cy="204.7" r="2.85" fill="#008bfb"/>
<circle cx="427.1" cy="203.3" r="2.85" fill="#008bfb"/>
<circle cx="427.1" cy="201.9" r="2.85" fill="#008bfb"/>
<circle cx="425.0" cy="216.7" r="2.85" fill="#008bfb"/>
<circle cx="428.3" cy="216.7" r="2.85" fill="#008bfb"/>
</g>
<line x1="127.1" x2="607.7" y1="258.9" y2="258.9" stroke="#333" stroke-width="1.3"/>
<g stroke="#222" stroke-width="0.22" stroke-linejoin="round">
<line x1="222.4" x2="222.4" y1="258.8" y2="263.5" stroke="#333" stroke-width="1.2"/>
<text x="222.1" y="278.6" font-size="14.3" fill="#222" text-anchor="middle">−0.10</text>
<line x1="324.6" x2="324.6" y1="258.8" y2="263.5" stroke="#333" stroke-width="1.2"/>
<text x="324.3" y="278.6" font-size="14.3" fill="#222" text-anchor="middle">−0.05</text>
<line x1="427.0" x2="427.0" y1="258.8" y2="263.5" stroke="#333" stroke-width="1.2"/>
<text x="426.7" y="278.6" font-size="14.3" fill="#222" text-anchor="middle">0.00</text>
<line x1="529.6" x2="529.6" y1="258.8" y2="263.5" stroke="#333" stroke-width="1.2"/>
<text x="529.3" y="278.6" font-size="14.3" fill="#222" text-anchor="middle">0.05</text>
<text x="366.9" y="298.4" font-size="16.97" fill="#222" text-anchor="middle">SHAP value (impact on model output)</text>
<text x="95.9" y="52.8" font-size="16.9" fill="#222" text-anchor="end">W-IB(L,N,S)</text>
<text x="95.9" y="95.2" font-size="16.9" fill="#222" text-anchor="end">W-PS(L,N,S)</text>
<text x="95.9" y="137.6" font-size="16.9" fill="#222" text-anchor="end">W-TS(L,N,S)</text>
<text x="95.9" y="180.0" font-size="16.9" fill="#222" text-anchor="end">W-PE(L,N,S)</text>
<text x="95.9" y="222.4" font-size="16.9" fill="#222" text-anchor="end">W-OB(L,N,S)</text>
</g>
<rect x="636.2" y="4.0" width="4.4" height="254.7" fill="url(#cb)"/>
<text x="645.0" y="9.7" font-size="14.55" fill="#000" stroke="#000" stroke-width="0.2">High</text>
<text x="645.0" y="264.3" font-size="14.55" fill="#000" stroke="#000" stroke-width="0.2">Low</text>
<text transform="translate(684.7,131.0) rotate(-90)" font-size="15.55" fill="#000" stroke="#000" stroke-width="0.15" text-anchor="middle">Feature value</text>
</svg>
</body></html>
